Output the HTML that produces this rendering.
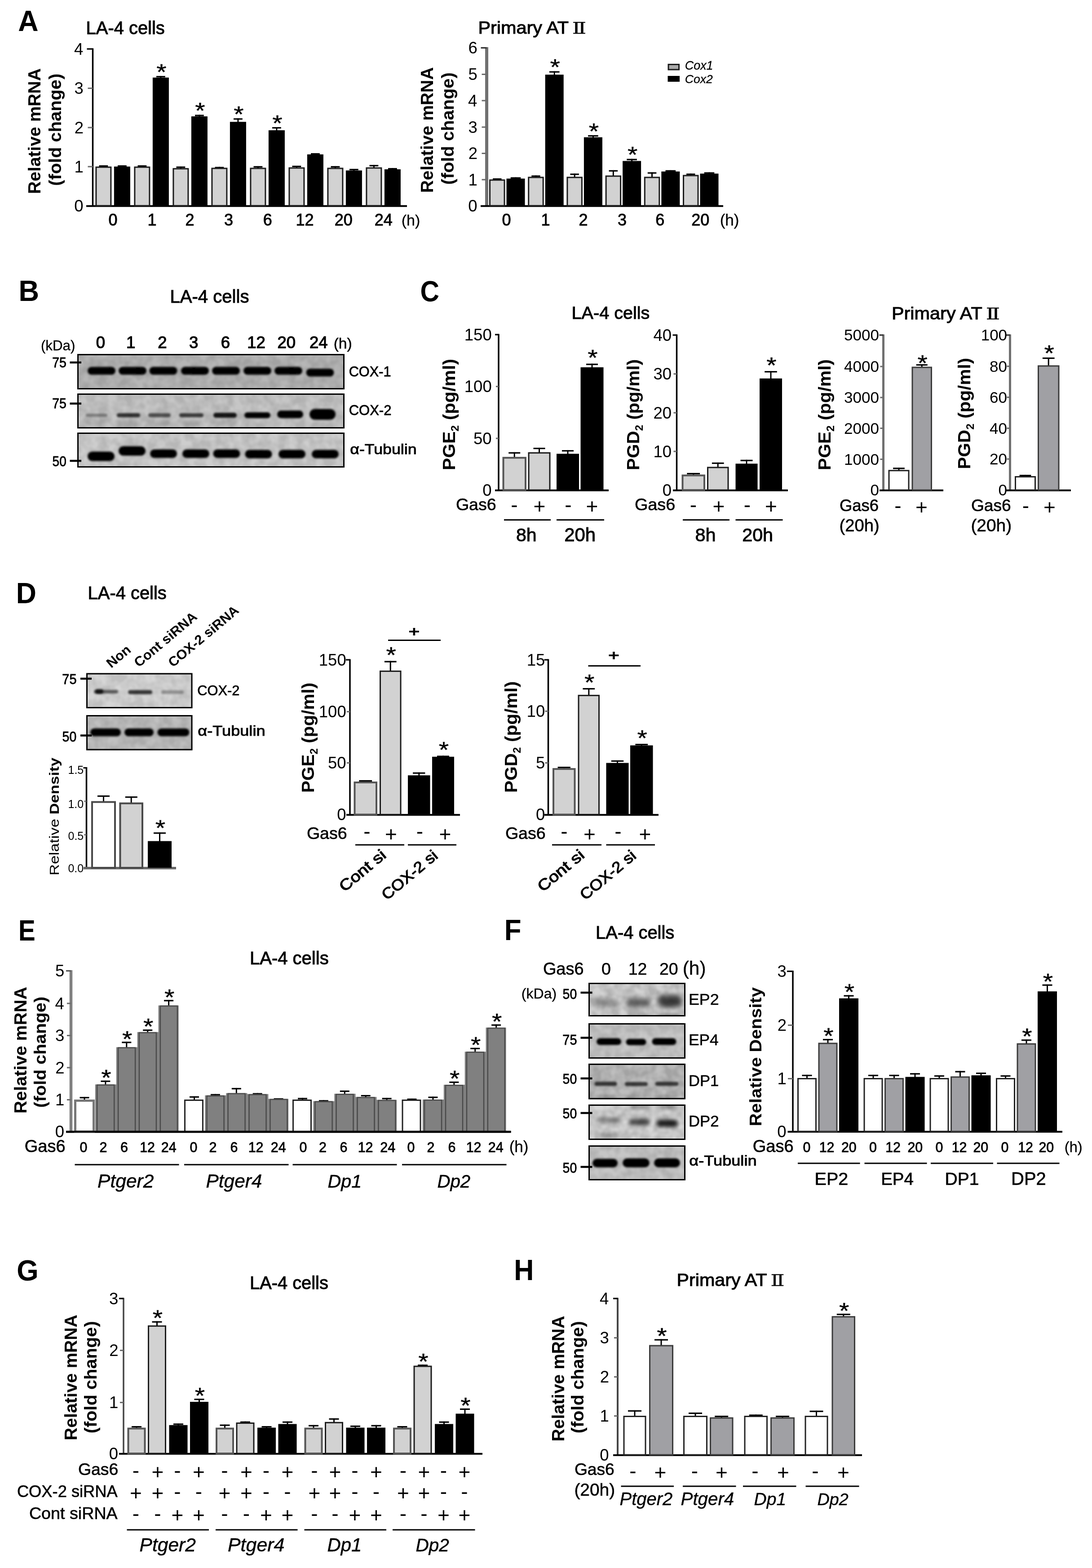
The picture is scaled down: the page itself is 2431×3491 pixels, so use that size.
<!DOCTYPE html>
<html lang="en"><head><meta charset="utf-8"><title>Figure</title>
<style>
html,body{margin:0;padding:0;background:#fff;}
body{width:2431px;height:3491px;overflow:hidden;}
svg{display:block;}
svg text{font-family:"Liberation Sans","Noto Sans CJK KR",sans-serif;fill:#000;}
svg .rn{font-family:"DejaVu Serif","Liberation Serif",serif;}
</style></head><body>
<svg width="2431" height="3491" viewBox="0 0 2431 3491">
<defs>
<filter id="soft" filterUnits="userSpaceOnUse" x="0" y="0" width="2431" height="3491"><feGaussianBlur stdDeviation="0.75"/></filter>
<filter id="b3" x="-30%" y="-80%" width="160%" height="260%"><feGaussianBlur stdDeviation="2.2"/></filter>
<filter id="b5" x="-30%" y="-120%" width="160%" height="340%"><feGaussianBlur stdDeviation="4"/></filter>
<filter id="b6" x="-30%" y="-120%" width="160%" height="340%"><feGaussianBlur stdDeviation="6"/></filter>
<filter id="nz0" x="0" y="0" width="100%" height="100%"><feTurbulence type="fractalNoise" baseFrequency="0.05" numOctaves="2" seed="3"/><feColorMatrix type="matrix" values="0 0 0 0 0  0 0 0 0 0  0 0 0 0 0  2.2 0 0 0 -0.6"/></filter>
<filter id="nz1" x="0" y="0" width="100%" height="100%"><feTurbulence type="fractalNoise" baseFrequency="0.05" numOctaves="2" seed="11"/><feColorMatrix type="matrix" values="0 0 0 0 0  0 0 0 0 0  0 0 0 0 0  2.2 0 0 0 -0.6"/></filter>
<filter id="nz2" x="0" y="0" width="100%" height="100%"><feTurbulence type="fractalNoise" baseFrequency="0.05" numOctaves="2" seed="23"/><feColorMatrix type="matrix" values="0 0 0 0 0  0 0 0 0 0  0 0 0 0 0  2.2 0 0 0 -0.6"/></filter>
<filter id="nz3" x="0" y="0" width="100%" height="100%"><feTurbulence type="fractalNoise" baseFrequency="0.05" numOctaves="2" seed="37"/><feColorMatrix type="matrix" values="0 0 0 0 0  0 0 0 0 0  0 0 0 0 0  2.2 0 0 0 -0.6"/></filter>
</defs>
<g filter="url(#soft)">
<rect x="0" y="0" width="2431" height="3491" fill="#fff"/>
<text x="40.2" y="69.0" font-size="65.5" textLength="45.27" lengthAdjust="spacingAndGlyphs" font-weight="bold" >A</text>
<text x="41.6" y="670.0" font-size="65.5" textLength="45.58" lengthAdjust="spacingAndGlyphs" font-weight="bold" >B</text>
<text x="935.4" y="670.5" font-size="65.5" textLength="42.45" lengthAdjust="spacingAndGlyphs" font-weight="bold" >C</text>
<text x="35.7" y="1343.0" font-size="65.5" textLength="45.21" lengthAdjust="spacingAndGlyphs" font-weight="bold" >D</text>
<text x="41.1" y="2094.0" font-size="65.5" textLength="37.78" lengthAdjust="spacingAndGlyphs" font-weight="bold" >E</text>
<text x="1122.7" y="2093.0" font-size="65.5" textLength="37.73" lengthAdjust="spacingAndGlyphs" font-weight="bold" >F</text>
<text x="37.3" y="2850.5" font-size="65.5" textLength="48.40" lengthAdjust="spacingAndGlyphs" font-weight="bold" >G</text>
<text x="1144.3" y="2850.0" font-size="65.5" textLength="44.07" lengthAdjust="spacingAndGlyphs" font-weight="bold" >H</text>
<text x="191.6" y="75.5" font-size="39.9"  stroke="#000" stroke-width="1.00" >LA-4 cells</text>
<text x="90.4" y="431.8" font-size="39.5" textLength="279.67" lengthAdjust="spacingAndGlyphs" font-weight="bold" transform="rotate(-90 90.4 431.8)">Relative mRNA</text>
<text x="136.3" y="413.7" font-size="38.0" textLength="249.88" lengthAdjust="spacingAndGlyphs" font-weight="bold" transform="rotate(-90 136.3 413.7)">(fold change)</text>
<line x1="206.5" y1="107.5" x2="206.5" y2="459.5" stroke="#000" stroke-width="3.5"/>
<line x1="193.5" y1="109.0" x2="206.5" y2="109.0" stroke="#000" stroke-width="3.2"/>
<text x="165.1" y="121.6" font-size="36.5"  >4</text>
<line x1="195.5" y1="196.5" x2="206.5" y2="196.5" stroke="#6a6a6a" stroke-width="3.0"/>
<text x="165.5" y="209.1" font-size="36.5"  >3</text>
<line x1="195.5" y1="284.0" x2="206.5" y2="284.0" stroke="#6a6a6a" stroke-width="3.0"/>
<text x="165.8" y="296.6" font-size="36.5"  >2</text>
<line x1="195.5" y1="371.0" x2="206.5" y2="371.0" stroke="#6a6a6a" stroke-width="3.0"/>
<text x="165.6" y="383.6" font-size="36.5"  >1</text>
<text x="165.3" y="470.6" font-size="36.5"  >0</text>
<line x1="192.0" y1="458.7" x2="906.0" y2="458.7" stroke="#000" stroke-width="4.0"/>
<line x1="230.4" y1="368.1" x2="230.4" y2="372.8" stroke="#000" stroke-width="3.0"/>
<line x1="220.5" y1="369.6" x2="240.3" y2="369.6" stroke="#000" stroke-width="3.2"/>
<rect x="213.9" y="372.2" width="33.0" height="85.8" fill="#d2d2d2" stroke="#1c1c1c" stroke-width="3.0"/>
<line x1="271.9" y1="368.1" x2="271.9" y2="372.8" stroke="#000" stroke-width="3.0"/>
<line x1="262.0" y1="369.6" x2="281.8" y2="369.6" stroke="#000" stroke-width="3.2"/>
<rect x="253.9" y="370.8" width="36.0" height="87.2" fill="#000"/>
<text x="241.4" y="502.0" font-size="36.0"  stroke="#000" stroke-width="0.90">0</text>
<line x1="316.4" y1="368.1" x2="316.4" y2="372.8" stroke="#000" stroke-width="3.0"/>
<line x1="306.5" y1="369.6" x2="326.3" y2="369.6" stroke="#000" stroke-width="3.2"/>
<rect x="299.9" y="372.2" width="33.0" height="85.8" fill="#d2d2d2" stroke="#1c1c1c" stroke-width="3.0"/>
<line x1="357.9" y1="169.2" x2="357.9" y2="174.7" stroke="#000" stroke-width="3.0"/>
<line x1="348.0" y1="170.7" x2="367.8" y2="170.7" stroke="#000" stroke-width="3.2"/>
<rect x="339.9" y="172.7" width="36.0" height="285.3" fill="#000"/>
<text x="348.2" y="178.0" font-size="50.0" textLength="22.38" lengthAdjust="spacingAndGlyphs" stroke="#000" stroke-width="0.40">*</text>
<text x="328.5" y="502.0" font-size="36.0"  stroke="#000" stroke-width="0.90">1</text>
<line x1="402.4" y1="370.8" x2="402.4" y2="376.2" stroke="#000" stroke-width="3.0"/>
<line x1="392.5" y1="372.2" x2="412.3" y2="372.2" stroke="#000" stroke-width="3.2"/>
<rect x="385.9" y="375.7" width="33.0" height="82.3" fill="#d2d2d2" stroke="#1c1c1c" stroke-width="3.0"/>
<line x1="443.9" y1="255.6" x2="443.9" y2="261.1" stroke="#000" stroke-width="3.0"/>
<line x1="434.0" y1="257.1" x2="453.8" y2="257.1" stroke="#000" stroke-width="3.2"/>
<rect x="425.9" y="259.1" width="36.0" height="198.9" fill="#000"/>
<text x="434.2" y="264.3" font-size="50.0" textLength="22.38" lengthAdjust="spacingAndGlyphs" stroke="#000" stroke-width="0.40">*</text>
<text x="412.5" y="502.0" font-size="36.0"  stroke="#000" stroke-width="0.90">2</text>
<line x1="488.4" y1="371.6" x2="488.4" y2="375.4" stroke="#000" stroke-width="3.0"/>
<line x1="478.5" y1="373.1" x2="498.3" y2="373.1" stroke="#000" stroke-width="3.2"/>
<rect x="471.9" y="374.9" width="33.0" height="83.1" fill="#d2d2d2" stroke="#1c1c1c" stroke-width="3.0"/>
<line x1="529.9" y1="263.4" x2="529.9" y2="273.3" stroke="#000" stroke-width="3.0"/>
<line x1="520.0" y1="264.9" x2="539.8" y2="264.9" stroke="#000" stroke-width="3.2"/>
<rect x="511.9" y="271.3" width="36.0" height="186.7" fill="#000"/>
<text x="520.2" y="272.2" font-size="50.0" textLength="22.38" lengthAdjust="spacingAndGlyphs" stroke="#000" stroke-width="0.40">*</text>
<text x="499.0" y="502.0" font-size="36.0"  stroke="#000" stroke-width="0.90">3</text>
<line x1="574.4" y1="369.9" x2="574.4" y2="375.4" stroke="#000" stroke-width="3.0"/>
<line x1="564.5" y1="371.4" x2="584.3" y2="371.4" stroke="#000" stroke-width="3.2"/>
<rect x="557.9" y="374.9" width="33.0" height="83.1" fill="#d2d2d2" stroke="#1c1c1c" stroke-width="3.0"/>
<line x1="615.9" y1="283.1" x2="615.9" y2="292.0" stroke="#000" stroke-width="3.0"/>
<line x1="606.0" y1="284.6" x2="625.8" y2="284.6" stroke="#000" stroke-width="3.2"/>
<rect x="597.9" y="290.0" width="36.0" height="168.0" fill="#000"/>
<text x="606.2" y="291.8" font-size="50.0" textLength="22.38" lengthAdjust="spacingAndGlyphs" stroke="#000" stroke-width="0.40">*</text>
<text x="585.8" y="502.0" font-size="36.0"  stroke="#000" stroke-width="0.90">6</text>
<line x1="660.4" y1="369.0" x2="660.4" y2="374.5" stroke="#000" stroke-width="3.0"/>
<line x1="650.5" y1="370.5" x2="670.3" y2="370.5" stroke="#000" stroke-width="3.2"/>
<rect x="643.9" y="374.0" width="33.0" height="84.0" fill="#d2d2d2" stroke="#1c1c1c" stroke-width="3.0"/>
<line x1="701.9" y1="341.1" x2="701.9" y2="345.7" stroke="#000" stroke-width="3.0"/>
<line x1="692.0" y1="342.6" x2="711.8" y2="342.6" stroke="#000" stroke-width="3.2"/>
<rect x="683.9" y="343.7" width="36.0" height="114.3" fill="#000"/>
<text x="658.6" y="502.0" font-size="36.0"  stroke="#000" stroke-width="0.90">12</text>
<line x1="746.4" y1="369.9" x2="746.4" y2="375.4" stroke="#000" stroke-width="3.0"/>
<line x1="736.5" y1="371.4" x2="756.3" y2="371.4" stroke="#000" stroke-width="3.2"/>
<rect x="729.9" y="374.9" width="33.0" height="83.1" fill="#d2d2d2" stroke="#1c1c1c" stroke-width="3.0"/>
<line x1="787.9" y1="376.0" x2="787.9" y2="381.5" stroke="#000" stroke-width="3.0"/>
<line x1="778.0" y1="377.5" x2="797.8" y2="377.5" stroke="#000" stroke-width="3.2"/>
<rect x="769.9" y="379.5" width="36.0" height="78.5" fill="#000"/>
<text x="744.8" y="502.0" font-size="36.0"  stroke="#000" stroke-width="0.90">20</text>
<line x1="832.4" y1="367.3" x2="832.4" y2="374.5" stroke="#000" stroke-width="3.0"/>
<line x1="822.5" y1="368.8" x2="842.3" y2="368.8" stroke="#000" stroke-width="3.2"/>
<rect x="815.9" y="374.0" width="33.0" height="84.0" fill="#d2d2d2" stroke="#1c1c1c" stroke-width="3.0"/>
<line x1="873.9" y1="374.2" x2="873.9" y2="378.9" stroke="#000" stroke-width="3.0"/>
<line x1="864.0" y1="375.7" x2="883.8" y2="375.7" stroke="#000" stroke-width="3.2"/>
<rect x="855.9" y="376.9" width="36.0" height="81.1" fill="#000"/>
<text x="833.7" y="502.0" font-size="36.0"  stroke="#000" stroke-width="0.90">24</text>
<text x="893.7" y="502.0" font-size="34.1"  stroke="#000" stroke-width="0.30" >(h)</text>
<text y="75.0" font-size="38.5" stroke="#000" stroke-width="1.00"><tspan x="1064.5" textLength="200.67" lengthAdjust="spacingAndGlyphs">Primary AT</tspan><tspan> </tspan><tspan class="rn" x="1274.0" font-size="35.5" stroke-width="0.5" textLength="31" lengthAdjust="spacingAndGlyphs">Ⅱ</tspan></text>
<text x="964.4" y="429.3" font-size="39.5" textLength="279.67" lengthAdjust="spacingAndGlyphs" font-weight="bold" transform="rotate(-90 964.4 429.3)">Relative mRNA</text>
<text x="1010.3" y="411.2" font-size="38.0" textLength="249.88" lengthAdjust="spacingAndGlyphs" font-weight="bold" transform="rotate(-90 1010.3 411.2)">(fold change)</text>
<line x1="1083.5" y1="105.0" x2="1083.5" y2="459.5" stroke="#707070" stroke-width="7.0"/>
<line x1="1070.5" y1="106.5" x2="1083.5" y2="106.5" stroke="#333" stroke-width="3.2"/>
<text x="1042.5" y="119.1" font-size="36.5"  >6</text>
<line x1="1072.5" y1="165.5" x2="1083.5" y2="165.5" stroke="#6a6a6a" stroke-width="3.0"/>
<text x="1042.5" y="178.1" font-size="36.5"  >5</text>
<line x1="1072.5" y1="224.0" x2="1083.5" y2="224.0" stroke="#6a6a6a" stroke-width="3.0"/>
<text x="1042.1" y="236.6" font-size="36.5"  >4</text>
<line x1="1072.5" y1="283.0" x2="1083.5" y2="283.0" stroke="#6a6a6a" stroke-width="3.0"/>
<text x="1042.5" y="295.6" font-size="36.5"  >3</text>
<line x1="1072.5" y1="341.5" x2="1083.5" y2="341.5" stroke="#6a6a6a" stroke-width="3.0"/>
<text x="1042.8" y="354.1" font-size="36.5"  >2</text>
<line x1="1072.5" y1="400.0" x2="1083.5" y2="400.0" stroke="#6a6a6a" stroke-width="3.0"/>
<text x="1042.6" y="412.6" font-size="36.5"  >1</text>
<text x="1042.3" y="470.6" font-size="36.5"  >0</text>
<line x1="1070.0" y1="458.7" x2="1610.0" y2="458.7" stroke="#000" stroke-width="4.0"/>
<line x1="1106.8" y1="397.1" x2="1106.8" y2="401.4" stroke="#000" stroke-width="3.0"/>
<line x1="1097.0" y1="398.6" x2="1116.5" y2="398.6" stroke="#000" stroke-width="3.2"/>
<rect x="1090.5" y="400.9" width="32.5" height="57.1" fill="#d2d2d2" stroke="#1c1c1c" stroke-width="3.0"/>
<line x1="1148.0" y1="394.7" x2="1148.0" y2="399.6" stroke="#000" stroke-width="3.0"/>
<line x1="1136.7" y1="396.2" x2="1159.3" y2="396.2" stroke="#000" stroke-width="3.2"/>
<rect x="1127.5" y="397.6" width="41.0" height="60.4" fill="#000"/>
<text x="1117.4" y="502.0" font-size="36.0"  stroke="#000" stroke-width="0.90">0</text>
<line x1="1193.0" y1="390.6" x2="1193.0" y2="395.5" stroke="#000" stroke-width="3.0"/>
<line x1="1183.2" y1="392.1" x2="1202.7" y2="392.1" stroke="#000" stroke-width="3.2"/>
<rect x="1176.7" y="395.0" width="32.5" height="63.0" fill="#d2d2d2" stroke="#1c1c1c" stroke-width="3.0"/>
<line x1="1234.2" y1="158.6" x2="1234.2" y2="168.2" stroke="#000" stroke-width="3.0"/>
<line x1="1222.9" y1="160.1" x2="1245.5" y2="160.1" stroke="#000" stroke-width="3.2"/>
<rect x="1213.7" y="166.2" width="41.0" height="291.8" fill="#000"/>
<text x="1224.5" y="167.3" font-size="50.0" textLength="22.38" lengthAdjust="spacingAndGlyphs" stroke="#000" stroke-width="0.40">*</text>
<text x="1204.5" y="502.0" font-size="36.0"  stroke="#000" stroke-width="0.90">1</text>
<line x1="1279.2" y1="386.5" x2="1279.2" y2="395.5" stroke="#000" stroke-width="3.0"/>
<line x1="1269.4" y1="388.0" x2="1288.9" y2="388.0" stroke="#000" stroke-width="3.2"/>
<rect x="1262.9" y="395.0" width="32.5" height="63.0" fill="#d2d2d2" stroke="#1c1c1c" stroke-width="3.0"/>
<line x1="1320.4" y1="301.0" x2="1320.4" y2="307.6" stroke="#000" stroke-width="3.0"/>
<line x1="1309.1" y1="302.5" x2="1331.7" y2="302.5" stroke="#000" stroke-width="3.2"/>
<rect x="1299.9" y="305.6" width="41.0" height="152.4" fill="#000"/>
<text x="1310.7" y="309.7" font-size="50.0" textLength="22.38" lengthAdjust="spacingAndGlyphs" stroke="#000" stroke-width="0.40">*</text>
<text x="1288.5" y="502.0" font-size="36.0"  stroke="#000" stroke-width="0.90">2</text>
<line x1="1365.3" y1="378.9" x2="1365.3" y2="392.6" stroke="#000" stroke-width="3.0"/>
<line x1="1355.6" y1="380.4" x2="1375.1" y2="380.4" stroke="#000" stroke-width="3.2"/>
<rect x="1349.1" y="392.1" width="32.5" height="65.9" fill="#d2d2d2" stroke="#1c1c1c" stroke-width="3.0"/>
<line x1="1406.6" y1="353.7" x2="1406.6" y2="360.4" stroke="#000" stroke-width="3.0"/>
<line x1="1395.3" y1="355.2" x2="1417.9" y2="355.2" stroke="#000" stroke-width="3.2"/>
<rect x="1386.1" y="358.4" width="41.0" height="99.6" fill="#000"/>
<text x="1396.9" y="362.4" font-size="50.0" textLength="22.38" lengthAdjust="spacingAndGlyphs" stroke="#000" stroke-width="0.40">*</text>
<text x="1375.0" y="502.0" font-size="36.0"  stroke="#000" stroke-width="0.90">3</text>
<line x1="1451.5" y1="383.6" x2="1451.5" y2="395.5" stroke="#000" stroke-width="3.0"/>
<line x1="1441.8" y1="385.1" x2="1461.3" y2="385.1" stroke="#000" stroke-width="3.2"/>
<rect x="1435.3" y="395.0" width="32.5" height="63.0" fill="#d2d2d2" stroke="#1c1c1c" stroke-width="3.0"/>
<line x1="1492.8" y1="378.9" x2="1492.8" y2="383.8" stroke="#000" stroke-width="3.0"/>
<line x1="1481.5" y1="380.4" x2="1504.1" y2="380.4" stroke="#000" stroke-width="3.2"/>
<rect x="1472.3" y="381.8" width="41.0" height="76.2" fill="#000"/>
<text x="1459.3" y="502.0" font-size="36.0"  stroke="#000" stroke-width="0.90">6</text>
<line x1="1537.8" y1="386.5" x2="1537.8" y2="391.4" stroke="#000" stroke-width="3.0"/>
<line x1="1528.0" y1="388.0" x2="1547.5" y2="388.0" stroke="#000" stroke-width="3.2"/>
<rect x="1521.5" y="390.9" width="32.5" height="67.1" fill="#d2d2d2" stroke="#1c1c1c" stroke-width="3.0"/>
<line x1="1579.0" y1="383.6" x2="1579.0" y2="388.5" stroke="#000" stroke-width="3.0"/>
<line x1="1567.7" y1="385.1" x2="1590.3" y2="385.1" stroke="#000" stroke-width="3.2"/>
<rect x="1558.5" y="386.5" width="41.0" height="71.5" fill="#000"/>
<text x="1539.2" y="502.0" font-size="36.0"  stroke="#000" stroke-width="0.90">20</text>
<text x="1602.7" y="502.0" font-size="35.0"  stroke="#000" stroke-width="0.30" >(h)</text>
<rect x="1488.0" y="143.5" width="23.5" height="11.5" fill="#aaaaaa" stroke="#1a1a1a" stroke-width="3.0"/>
<rect x="1486.5" y="169.0" width="26.5" height="13.0" fill="#000"/>
<text x="1524.8" y="155.0" font-size="26.9"  font-style="italic" stroke="#000" stroke-width="0.30" >Cox1</text>
<text x="1524.8" y="184.5" font-size="26.5"  font-style="italic" stroke="#000" stroke-width="0.30" >Cox2</text>
<text x="378.5" y="674.0" font-size="40.1"  stroke="#000" stroke-width="1.00" >LA-4 cells</text>
<text x="90.9" y="780.0" font-size="31.3"  stroke="#000" stroke-width="0.30" >(kDa)</text>
<text x="213.8" y="774.5" font-size="36.5"  stroke="#000" stroke-width="1.20">0</text>
<text x="280.9" y="774.5" font-size="36.5"  stroke="#000" stroke-width="1.20">1</text>
<text x="351.3" y="774.5" font-size="36.5"  stroke="#000" stroke-width="1.20">2</text>
<text x="420.9" y="774.5" font-size="36.5"  stroke="#000" stroke-width="1.20">3</text>
<text x="491.7" y="774.5" font-size="36.5"  stroke="#000" stroke-width="1.20">6</text>
<text x="550.3" y="774.5" font-size="36.5"  stroke="#000" stroke-width="1.20">12</text>
<text x="617.5" y="774.5" font-size="36.5"  stroke="#000" stroke-width="1.20">20</text>
<text x="688.9" y="774.5" font-size="36.5"  stroke="#000" stroke-width="1.20">24</text>
<text x="742.7" y="775.5" font-size="33.6"  stroke="#000" stroke-width="0.50" >(h)</text>
<clipPath id="bc1"><rect x="172.0" y="788.0" width="595.0" height="79.0"/></clipPath>
<g clip-path="url(#bc1)">
<rect x="172.0" y="788.0" width="595.0" height="79.0" fill="#b6b6b6"/>
<rect x="172.0" y="788.0" width="595.0" height="79.0" filter="url(#nz1)" opacity="0.10"/>
<rect x="195.0" y="816.8" width="62.0" height="17.5" rx="8.8" ry="8.8" fill="#000" opacity="1.00" filter="url(#b3)"/>
<rect x="264.0" y="816.8" width="62.0" height="17.5" rx="8.8" ry="8.8" fill="#000" opacity="1.00" filter="url(#b3)"/>
<rect x="332.5" y="816.8" width="62.0" height="17.5" rx="8.8" ry="8.8" fill="#000" opacity="1.00" filter="url(#b3)"/>
<rect x="403.0" y="816.8" width="62.0" height="17.5" rx="8.8" ry="8.8" fill="#000" opacity="1.00" filter="url(#b3)"/>
<rect x="472.0" y="816.8" width="62.0" height="17.5" rx="8.8" ry="8.8" fill="#000" opacity="1.00" filter="url(#b3)"/>
<rect x="542.0" y="816.8" width="62.0" height="17.5" rx="8.8" ry="8.8" fill="#000" opacity="1.00" filter="url(#b3)"/>
<rect x="611.0" y="816.8" width="62.0" height="17.5" rx="8.8" ry="8.8" fill="#000" opacity="1.00" filter="url(#b3)"/>
<rect x="681.5" y="820.8" width="62.0" height="17.5" rx="8.8" ry="8.8" fill="#000" opacity="1.00" filter="url(#b3)"/>
</g>
<rect x="173.5" y="789.5" width="592.0" height="76.0" fill="none" stroke="#000" stroke-width="3"/>
<clipPath id="bc2"><rect x="172.0" y="876.0" width="595.0" height="78.0"/></clipPath>
<g clip-path="url(#bc2)">
<rect x="172.0" y="876.0" width="595.0" height="78.0" fill="#c6c6c6"/>
<rect x="172.0" y="876.0" width="595.0" height="78.0" filter="url(#nz2)" opacity="0.10"/>
<rect x="191.0" y="921.0" width="48.0" height="7.0" rx="3.5" ry="3.5" fill="#000" opacity="0.35" filter="url(#b3)"/>
<rect x="191.0" y="935.0" width="48.0" height="14.0" rx="7.0" ry="7.0" fill="#000" opacity="0.10" filter="url(#b5)"/>
<rect x="260.0" y="920.0" width="52.0" height="9.0" rx="4.5" ry="4.5" fill="#000" opacity="0.75" filter="url(#b3)"/>
<rect x="260.0" y="935.0" width="52.0" height="14.0" rx="7.0" ry="7.0" fill="#000" opacity="0.10" filter="url(#b5)"/>
<rect x="330.0" y="920.0" width="50.0" height="9.0" rx="4.5" ry="4.5" fill="#000" opacity="0.60" filter="url(#b3)"/>
<rect x="330.0" y="935.0" width="50.0" height="14.0" rx="7.0" ry="7.0" fill="#000" opacity="0.10" filter="url(#b5)"/>
<rect x="399.0" y="920.0" width="54.0" height="9.0" rx="4.5" ry="4.5" fill="#000" opacity="0.70" filter="url(#b3)"/>
<rect x="399.0" y="935.0" width="54.0" height="14.0" rx="7.0" ry="7.0" fill="#000" opacity="0.10" filter="url(#b5)"/>
<rect x="475.0" y="919.0" width="52.0" height="11.0" rx="5.5" ry="5.5" fill="#000" opacity="0.90" filter="url(#b3)"/>
<rect x="475.0" y="935.0" width="52.0" height="14.0" rx="7.0" ry="7.0" fill="#000" opacity="0.10" filter="url(#b5)"/>
<rect x="544.0" y="918.0" width="58.0" height="13.0" rx="6.5" ry="6.5" fill="#000" opacity="1.00" filter="url(#b3)"/>
<rect x="617.0" y="914.0" width="58.0" height="17.0" rx="8.5" ry="8.5" fill="#000" opacity="1.00" filter="url(#b3)"/>
<rect x="689.0" y="910.5" width="58.0" height="24.0" rx="12.0" ry="12.0" fill="#000" opacity="1.00" filter="url(#b3)"/>
</g>
<rect x="173.5" y="877.5" width="592.0" height="75.0" fill="none" stroke="#000" stroke-width="3"/>
<clipPath id="bc3"><rect x="172.0" y="963.0" width="595.0" height="78.0"/></clipPath>
<g clip-path="url(#bc3)">
<rect x="172.0" y="963.0" width="595.0" height="78.0" fill="#cdcdcd"/>
<rect x="172.0" y="963.0" width="595.0" height="78.0" filter="url(#nz3)" opacity="0.10"/>
<rect x="195.0" y="1005.5" width="60.0" height="21.0" rx="10.5" ry="10.5" fill="#000" opacity="1.00" filter="url(#b3)"/>
<rect x="264.0" y="993.5" width="60.0" height="21.0" rx="10.5" ry="10.5" fill="#000" opacity="1.00" filter="url(#b3)"/>
<rect x="334.0" y="1000.5" width="60.0" height="19.0" rx="9.5" ry="9.5" fill="#000" opacity="1.00" filter="url(#b3)"/>
<rect x="406.0" y="1000.5" width="60.0" height="19.0" rx="9.5" ry="9.5" fill="#000" opacity="1.00" filter="url(#b3)"/>
<rect x="474.5" y="1000.5" width="60.0" height="19.0" rx="9.5" ry="9.5" fill="#000" opacity="1.00" filter="url(#b3)"/>
<rect x="545.5" y="1001.5" width="60.0" height="19.0" rx="9.5" ry="9.5" fill="#000" opacity="1.00" filter="url(#b3)"/>
<rect x="620.0" y="1001.5" width="60.0" height="19.0" rx="9.5" ry="9.5" fill="#000" opacity="1.00" filter="url(#b3)"/>
<rect x="694.0" y="1001.5" width="60.0" height="19.0" rx="9.5" ry="9.5" fill="#000" opacity="1.00" filter="url(#b3)"/>
</g>
<rect x="173.5" y="964.5" width="592.0" height="75.0" fill="none" stroke="#000" stroke-width="3"/>
<text x="116.3" y="818.0" font-size="31.5" textLength="31.63" lengthAdjust="spacingAndGlyphs" stroke="#000" stroke-width="0.80" >75</text>
<line x1="155.5" y1="807.0" x2="181.0" y2="807.0" stroke="#000" stroke-width="4.5"/>
<text x="116.3" y="909.0" font-size="31.5" textLength="31.63" lengthAdjust="spacingAndGlyphs" stroke="#000" stroke-width="0.80" >75</text>
<line x1="155.5" y1="898.5" x2="181.0" y2="898.5" stroke="#000" stroke-width="4.5"/>
<text x="116.6" y="1038.0" font-size="31.5" textLength="31.17" lengthAdjust="spacingAndGlyphs" stroke="#000" stroke-width="0.80" >50</text>
<line x1="155.5" y1="1026.0" x2="181.0" y2="1026.0" stroke="#000" stroke-width="4.5"/>
<text x="776.7" y="837.5" font-size="30.7"  stroke="#000" stroke-width="0.80" >COX-1</text>
<text x="776.7" y="924.0" font-size="31.0"  stroke="#000" stroke-width="0.80" >COX-2</text>
<text x="779.3" y="1011.0" font-size="32.0" textLength="148.21" lengthAdjust="spacingAndGlyphs" stroke="#000" stroke-width="0.90" >α-Tubulin</text>
<text x="1272.6" y="710.0" font-size="39.6"  stroke="#000" stroke-width="1.00" >LA-4 cells</text>
<text y="711.0" font-size="38.5" stroke="#000" stroke-width="1.00"><tspan x="1984.9" textLength="201.10" lengthAdjust="spacingAndGlyphs">Primary AT</tspan><tspan> </tspan><tspan class="rn" x="2195.0" font-size="35.5" stroke-width="0.5" textLength="31" lengthAdjust="spacingAndGlyphs">Ⅱ</tspan></text>
<text x="1013.2" y="1046.9" font-size="38.5" font-weight="bold" textLength="248.10" lengthAdjust="spacingAndGlyphs" transform="rotate(-90 1013.2 1046.9)">PGE<tspan font-size="23.1" dy="8">2</tspan><tspan dy="-8"> (pg/ml)</tspan></text>
<line x1="1110.0" y1="743.5" x2="1110.0" y2="1092.5" stroke="#000" stroke-width="3.5"/>
<line x1="1102.0" y1="745.0" x2="1110.0" y2="745.0" stroke="#000" stroke-width="3.2"/>
<text x="1033.8" y="757.6" font-size="36.5"  >150</text>
<line x1="1104.0" y1="860.5" x2="1110.0" y2="860.5" stroke="#6a6a6a" stroke-width="3.0"/>
<text x="1033.8" y="873.1" font-size="36.5"  >100</text>
<line x1="1104.0" y1="976.0" x2="1110.0" y2="976.0" stroke="#6a6a6a" stroke-width="3.0"/>
<text x="1054.0" y="988.6" font-size="36.5"  >50</text>
<text x="1074.3" y="1103.6" font-size="36.5"  >0</text>
<line x1="1102.0" y1="1091.7" x2="1355.0" y2="1091.7" stroke="#000" stroke-width="4.0"/>
<line x1="1145.2" y1="1006.8" x2="1145.2" y2="1019.2" stroke="#000" stroke-width="3.0"/>
<line x1="1132.2" y1="1008.3" x2="1158.2" y2="1008.3" stroke="#000" stroke-width="3.2"/>
<rect x="1120.5" y="1019.2" width="49.5" height="71.8" fill="#d2d2d2" stroke="#555" stroke-width="4.0"/>
<line x1="1200.5" y1="996.9" x2="1200.5" y2="1008.8" stroke="#000" stroke-width="3.0"/>
<line x1="1187.5" y1="998.4" x2="1213.5" y2="998.4" stroke="#000" stroke-width="3.2"/>
<rect x="1177.0" y="1008.3" width="47.0" height="82.7" fill="#d2d2d2" stroke="#1c1c1c" stroke-width="3.0"/>
<line x1="1264.0" y1="1002.2" x2="1264.0" y2="1012.3" stroke="#000" stroke-width="3.0"/>
<line x1="1251.0" y1="1003.7" x2="1277.0" y2="1003.7" stroke="#000" stroke-width="3.2"/>
<rect x="1239.0" y="1010.3" width="50.0" height="80.7" fill="#000"/>
<line x1="1318.0" y1="809.7" x2="1318.0" y2="819.7" stroke="#000" stroke-width="3.0"/>
<line x1="1305.0" y1="811.2" x2="1331.0" y2="811.2" stroke="#000" stroke-width="3.2"/>
<rect x="1292.5" y="817.7" width="51.0" height="273.3" fill="#000"/>
<text x="1308.3" y="813.8" font-size="50.0" textLength="22.38" lengthAdjust="spacingAndGlyphs" stroke="#000" stroke-width="0.40">*</text>
<text x="1014.9" y="1135.5" font-size="37.6"  stroke="#000" stroke-width="0.60" >Gas6</text>
<text x="1137.3" y="1139.7" font-size="46.0"  >-</text>
<text x="1187.5" y="1143.4" font-size="46.0"  >+</text>
<text x="1257.3" y="1139.7" font-size="46.0"  >-</text>
<text x="1304.5" y="1143.4" font-size="46.0"  >+</text>
<line x1="1122.0" y1="1157.5" x2="1226.0" y2="1157.5" stroke="#000" stroke-width="3.0"/>
<line x1="1239.0" y1="1157.5" x2="1345.0" y2="1157.5" stroke="#000" stroke-width="3.0"/>
<text x="1148.9" y="1205.0" font-size="41.0"  stroke="#000" stroke-width="1.00" >8h</text>
<text x="1256.2" y="1205.0" font-size="41.9"  stroke="#000" stroke-width="1.00" >20h</text>
<text x="1423.2" y="1046.9" font-size="38.5" font-weight="bold" textLength="247.04" lengthAdjust="spacingAndGlyphs" transform="rotate(-90 1423.2 1046.9)">PGD<tspan font-size="23.1" dy="8">2</tspan><tspan dy="-8"> (pg/ml)</tspan></text>
<line x1="1506.5" y1="744.5" x2="1506.5" y2="1092.5" stroke="#000" stroke-width="3.5"/>
<line x1="1497.5" y1="746.0" x2="1506.5" y2="746.0" stroke="#000" stroke-width="3.2"/>
<text x="1454.5" y="758.6" font-size="36.5"  >40</text>
<line x1="1499.5" y1="832.5" x2="1506.5" y2="832.5" stroke="#6a6a6a" stroke-width="3.0"/>
<text x="1454.5" y="845.1" font-size="36.5"  >30</text>
<line x1="1499.5" y1="919.0" x2="1506.5" y2="919.0" stroke="#6a6a6a" stroke-width="3.0"/>
<text x="1454.5" y="931.6" font-size="36.5"  >20</text>
<line x1="1499.5" y1="1005.0" x2="1506.5" y2="1005.0" stroke="#6a6a6a" stroke-width="3.0"/>
<text x="1454.5" y="1017.6" font-size="36.5"  >10</text>
<text x="1474.8" y="1103.6" font-size="36.5"  >0</text>
<line x1="1498.0" y1="1091.7" x2="1754.0" y2="1091.7" stroke="#000" stroke-width="4.0"/>
<line x1="1543.8" y1="1053.0" x2="1543.8" y2="1058.5" stroke="#000" stroke-width="3.0"/>
<line x1="1529.3" y1="1054.5" x2="1558.2" y2="1054.5" stroke="#000" stroke-width="3.2"/>
<rect x="1519.5" y="1058.5" width="48.5" height="32.5" fill="#d2d2d2" stroke="#555" stroke-width="4.0"/>
<line x1="1598.2" y1="1029.8" x2="1598.2" y2="1041.2" stroke="#000" stroke-width="3.0"/>
<line x1="1584.9" y1="1031.3" x2="1611.6" y2="1031.3" stroke="#000" stroke-width="3.2"/>
<rect x="1575.5" y="1040.8" width="45.5" height="50.2" fill="#d2d2d2" stroke="#1c1c1c" stroke-width="3.0"/>
<line x1="1662.0" y1="1023.7" x2="1662.0" y2="1034.3" stroke="#000" stroke-width="3.0"/>
<line x1="1648.5" y1="1025.2" x2="1675.5" y2="1025.2" stroke="#000" stroke-width="3.2"/>
<rect x="1637.5" y="1032.3" width="49.0" height="58.7" fill="#000"/>
<line x1="1716.0" y1="826.2" x2="1716.0" y2="844.6" stroke="#000" stroke-width="3.0"/>
<line x1="1702.2" y1="827.7" x2="1729.8" y2="827.7" stroke="#000" stroke-width="3.2"/>
<rect x="1691.0" y="842.6" width="50.0" height="248.4" fill="#000"/>
<text x="1706.3" y="830.8" font-size="50.0" textLength="22.38" lengthAdjust="spacingAndGlyphs" stroke="#000" stroke-width="0.40">*</text>
<text x="1412.9" y="1135.5" font-size="37.8"  stroke="#000" stroke-width="0.60" >Gas6</text>
<text x="1535.8" y="1139.7" font-size="46.0"  >-</text>
<text x="1586.5" y="1143.4" font-size="46.0"  >+</text>
<text x="1655.8" y="1139.7" font-size="46.0"  >-</text>
<text x="1703.0" y="1143.4" font-size="46.0"  >+</text>
<line x1="1520.0" y1="1157.5" x2="1624.0" y2="1157.5" stroke="#000" stroke-width="3.0"/>
<line x1="1637.5" y1="1157.5" x2="1742.5" y2="1157.5" stroke="#000" stroke-width="3.0"/>
<text x="1547.4" y="1205.0" font-size="41.5"  stroke="#000" stroke-width="1.00" >8h</text>
<text x="1652.2" y="1205.0" font-size="41.3"  stroke="#000" stroke-width="1.00" >20h</text>
<text x="1848.7" y="1046.9" font-size="38.5" font-weight="bold" textLength="247.08" lengthAdjust="spacingAndGlyphs" transform="rotate(-90 1848.7 1046.9)">PGE<tspan font-size="23.1" dy="8">2</tspan><tspan dy="-8"> (pg/ml)</tspan></text>
<line x1="1966.5" y1="744.5" x2="1966.5" y2="1092.5" stroke="#707070" stroke-width="5.0"/>
<line x1="1957.5" y1="746.0" x2="1966.5" y2="746.0" stroke="#333" stroke-width="3.2"/>
<text x="1879.1" y="758.1" font-size="35.0"  >5000</text>
<line x1="1959.5" y1="816.0" x2="1966.5" y2="816.0" stroke="#6a6a6a" stroke-width="3.0"/>
<text x="1879.1" y="828.1" font-size="35.0"  >4000</text>
<line x1="1959.5" y1="885.0" x2="1966.5" y2="885.0" stroke="#6a6a6a" stroke-width="3.0"/>
<text x="1879.1" y="897.1" font-size="35.0"  >3000</text>
<line x1="1959.5" y1="953.5" x2="1966.5" y2="953.5" stroke="#6a6a6a" stroke-width="3.0"/>
<text x="1879.1" y="965.6" font-size="35.0"  >2000</text>
<line x1="1959.5" y1="1022.5" x2="1966.5" y2="1022.5" stroke="#6a6a6a" stroke-width="3.0"/>
<text x="1879.1" y="1034.6" font-size="35.0"  >1000</text>
<text x="1937.5" y="1103.1" font-size="35.0"  >0</text>
<line x1="1958.0" y1="1091.7" x2="2100.0" y2="1091.7" stroke="#000" stroke-width="4.0"/>
<line x1="2001.0" y1="1041.3" x2="2001.0" y2="1048.2" stroke="#000" stroke-width="3.0"/>
<line x1="1988.1" y1="1042.8" x2="2013.9" y2="1042.8" stroke="#000" stroke-width="3.2"/>
<rect x="1979.0" y="1047.7" width="44.0" height="43.3" fill="#fff" stroke="#222" stroke-width="3.0"/>
<line x1="2052.2" y1="810.9" x2="2052.2" y2="818.4" stroke="#000" stroke-width="3.0"/>
<line x1="2039.7" y1="812.4" x2="2064.8" y2="812.4" stroke="#000" stroke-width="3.2"/>
<rect x="2031.0" y="817.9" width="42.5" height="273.1" fill="#a0a0a4" stroke="#3a3a3a" stroke-width="3.0"/>
<text x="2042.5" y="825.8" font-size="50.0" textLength="22.38" lengthAdjust="spacingAndGlyphs" stroke="#000" stroke-width="0.40">*</text>
<text x="1868.9" y="1137.5" font-size="36.5"  stroke="#000" stroke-width="0.60" >Gas6</text>
<text x="1991.3" y="1141.7" font-size="46.0"  >-</text>
<text x="2038.0" y="1145.4" font-size="46.0"  >+</text>
<text x="1868.5" y="1182.5" font-size="38.2"  stroke="#000" stroke-width="0.60" >(20h)</text>
<text x="2160.2" y="1044.4" font-size="38.5" font-weight="bold" textLength="247.55" lengthAdjust="spacingAndGlyphs" transform="rotate(-90 2160.2 1044.4)">PGD<tspan font-size="23.1" dy="8">2</tspan><tspan dy="-8"> (pg/ml)</tspan></text>
<line x1="2248.5" y1="744.5" x2="2248.5" y2="1092.5" stroke="#707070" stroke-width="5.0"/>
<line x1="2239.5" y1="746.0" x2="2248.5" y2="746.0" stroke="#333" stroke-width="3.2"/>
<text x="2183.7" y="758.1" font-size="35.0"  >100</text>
<line x1="2241.5" y1="815.5" x2="2248.5" y2="815.5" stroke="#6a6a6a" stroke-width="3.0"/>
<text x="2203.1" y="827.6" font-size="35.0"  >80</text>
<line x1="2241.5" y1="884.5" x2="2248.5" y2="884.5" stroke="#6a6a6a" stroke-width="3.0"/>
<text x="2203.1" y="896.6" font-size="35.0"  >60</text>
<line x1="2241.5" y1="953.5" x2="2248.5" y2="953.5" stroke="#6a6a6a" stroke-width="3.0"/>
<text x="2203.1" y="965.6" font-size="35.0"  >40</text>
<line x1="2241.5" y1="1022.0" x2="2248.5" y2="1022.0" stroke="#6a6a6a" stroke-width="3.0"/>
<text x="2203.1" y="1034.1" font-size="35.0"  >20</text>
<text x="2222.6" y="1103.1" font-size="35.0"  >0</text>
<line x1="2240.0" y1="1091.7" x2="2384.0" y2="1091.7" stroke="#000" stroke-width="4.0"/>
<line x1="2282.5" y1="1057.2" x2="2282.5" y2="1062.0" stroke="#000" stroke-width="3.0"/>
<line x1="2269.6" y1="1058.7" x2="2295.4" y2="1058.7" stroke="#000" stroke-width="3.2"/>
<rect x="2260.5" y="1061.5" width="44.0" height="29.5" fill="#fff" stroke="#222" stroke-width="3.0"/>
<line x1="2334.2" y1="796.0" x2="2334.2" y2="815.3" stroke="#000" stroke-width="3.0"/>
<line x1="2320.9" y1="797.5" x2="2347.6" y2="797.5" stroke="#000" stroke-width="3.2"/>
<rect x="2311.5" y="814.8" width="45.5" height="276.2" fill="#a0a0a4" stroke="#3a3a3a" stroke-width="3.0"/>
<text x="2324.5" y="803.8" font-size="50.0" textLength="22.38" lengthAdjust="spacingAndGlyphs" stroke="#000" stroke-width="0.40">*</text>
<text x="2161.9" y="1137.5" font-size="37.2"  stroke="#000" stroke-width="0.60" >Gas6</text>
<text x="2275.8" y="1141.7" font-size="46.0"  >-</text>
<text x="2323.0" y="1145.4" font-size="46.0"  >+</text>
<text x="2161.4" y="1182.5" font-size="38.9"  stroke="#000" stroke-width="0.60" >(20h)</text>
<text x="195.6" y="1333.5" font-size="39.9"  stroke="#000" stroke-width="1.00" >LA-4 cells</text>
<g transform="translate(249.0 1487.0) rotate(-40.0)"><text x="-2.0" y="0" font-size="30.0" textLength="59.81" lengthAdjust="spacingAndGlyphs" font-weight="bold">Non</text></g>
<g transform="translate(310.0 1486.0) rotate(-40.0)"><text x="-1.2" y="0" font-size="30.0" textLength="172.02" lengthAdjust="spacingAndGlyphs" font-weight="bold">Cont siRNA</text></g>
<g transform="translate(386.0 1486.0) rotate(-40.0)"><text x="-1.2" y="0" font-size="30.0" textLength="194.13" lengthAdjust="spacingAndGlyphs" font-weight="bold">COX-2 siRNA</text></g>
<clipPath id="bc4"><rect x="192.0" y="1498.5" width="236.5" height="78.5"/></clipPath>
<g clip-path="url(#bc4)">
<rect x="192.0" y="1498.5" width="236.5" height="78.5" fill="#d6d6d6"/>
<rect x="192.0" y="1498.5" width="236.5" height="78.5" filter="url(#nz0)" opacity="0.10"/>
<rect x="209.0" y="1536.0" width="54.0" height="8.0" rx="4.0" ry="4.0" fill="#000" opacity="0.55" filter="url(#b3)"/>
<rect x="212.0" y="1534.5" width="18.0" height="10.0" rx="5.0" ry="5.0" fill="#000" opacity="0.80" filter="url(#b3)"/>
<rect x="285.0" y="1536.5" width="54.0" height="9.0" rx="4.5" ry="4.5" fill="#000" opacity="0.75" filter="url(#b3)"/>
<rect x="359.0" y="1537.0" width="50.0" height="8.0" rx="4.0" ry="4.0" fill="#000" opacity="0.30" filter="url(#b3)"/>
</g>
<rect x="193.5" y="1500.0" width="233.5" height="75.5" fill="none" stroke="#000" stroke-width="3"/>
<clipPath id="bc5"><rect x="192.0" y="1592.0" width="236.5" height="78.5"/></clipPath>
<g clip-path="url(#bc5)">
<rect x="192.0" y="1592.0" width="236.5" height="78.5" fill="#c0c0c0"/>
<rect x="192.0" y="1592.0" width="236.5" height="78.5" filter="url(#nz1)" opacity="0.10"/>
<rect x="201.0" y="1621.8" width="68.0" height="17.5" rx="8.8" ry="8.8" fill="#000" opacity="1.00" filter="url(#b3)"/>
<rect x="277.0" y="1621.8" width="65.0" height="17.5" rx="8.8" ry="8.8" fill="#000" opacity="1.00" filter="url(#b3)"/>
<rect x="350.5" y="1621.8" width="71.0" height="17.5" rx="8.8" ry="8.8" fill="#000" opacity="1.00" filter="url(#b3)"/>
</g>
<rect x="193.5" y="1593.5" width="233.5" height="75.5" fill="none" stroke="#000" stroke-width="3"/>
<text x="138.3" y="1523.0" font-size="31.5" textLength="32.17" lengthAdjust="spacingAndGlyphs" stroke="#000" stroke-width="0.80" >75</text>
<line x1="179.0" y1="1511.0" x2="204.0" y2="1511.0" stroke="#000" stroke-width="4.5"/>
<text x="138.6" y="1651.0" font-size="31.5" textLength="31.70" lengthAdjust="spacingAndGlyphs" stroke="#000" stroke-width="0.80" >50</text>
<line x1="179.0" y1="1637.5" x2="204.0" y2="1637.5" stroke="#000" stroke-width="4.5"/>
<text x="439.2" y="1547.5" font-size="30.8"  stroke="#000" stroke-width="0.70" >COX-2</text>
<text x="440.3" y="1637.5" font-size="32.0" textLength="150.26" lengthAdjust="spacingAndGlyphs" stroke="#000" stroke-width="0.90" >α-Tubulin</text>
<text x="130.9" y="1949.2" font-size="30.0" textLength="262.41" lengthAdjust="spacingAndGlyphs"  transform="rotate(-90 130.9 1949.2)">Relative <tspan font-weight="bold">Density</tspan></text>
<line x1="192.5" y1="1708.0" x2="192.5" y2="1933.5" stroke="#000" stroke-width="3.5"/>
<line x1="185.5" y1="1709.5" x2="192.5" y2="1709.5" stroke="#000" stroke-width="3.2"/>
<text x="151.5" y="1723.1" font-size="25.0"  >1.5</text>
<line x1="187.5" y1="1784.0" x2="192.5" y2="1784.0" stroke="#6a6a6a" stroke-width="3.0"/>
<text x="151.4" y="1798.6" font-size="25.0"  >1.0</text>
<line x1="187.5" y1="1858.5" x2="192.5" y2="1858.5" stroke="#6a6a6a" stroke-width="3.0"/>
<text x="151.5" y="1869.6" font-size="25.0"  >0.5</text>
<text x="151.4" y="1941.6" font-size="25.0"  >0.0</text>
<line x1="186.0" y1="1932.7" x2="392.0" y2="1932.7" stroke="#666" stroke-width="5.5"/>
<line x1="230.5" y1="1771.0" x2="230.5" y2="1785.6" stroke="#000" stroke-width="3.0"/>
<line x1="217.0" y1="1772.5" x2="244.0" y2="1772.5" stroke="#000" stroke-width="3.2"/>
<rect x="205.0" y="1785.6" width="51.0" height="146.4" fill="#fff" stroke="#484848" stroke-width="4.0"/>
<line x1="292.2" y1="1773.2" x2="292.2" y2="1788.6" stroke="#000" stroke-width="3.0"/>
<line x1="278.8" y1="1774.7" x2="305.8" y2="1774.7" stroke="#000" stroke-width="3.2"/>
<rect x="267.5" y="1788.6" width="49.5" height="143.4" fill="#d2d2d2" stroke="#484848" stroke-width="4.0"/>
<line x1="355.5" y1="1853.3" x2="355.5" y2="1874.6" stroke="#000" stroke-width="3.0"/>
<line x1="342.0" y1="1854.8" x2="369.0" y2="1854.8" stroke="#000" stroke-width="3.2"/>
<rect x="329.0" y="1872.6" width="53.0" height="59.4" fill="#000"/>
<text x="345.8" y="1861.2" font-size="50.0" textLength="22.38" lengthAdjust="spacingAndGlyphs" stroke="#000" stroke-width="0.40">*</text>
<text x="699.2" y="1764.9" font-size="38.5" font-weight="bold" textLength="245.04" lengthAdjust="spacingAndGlyphs" transform="rotate(-90 699.2 1764.9)">PGE<tspan font-size="23.1" dy="8">2</tspan><tspan dy="-8"> (pg/ml)</tspan></text>
<line x1="779.0" y1="1467.5" x2="779.0" y2="1815.0" stroke="#000" stroke-width="3.5"/>
<line x1="770.0" y1="1469.0" x2="779.0" y2="1469.0" stroke="#000" stroke-width="3.2"/>
<text x="709.8" y="1481.6" font-size="36.5"  >150</text>
<line x1="772.0" y1="1584.5" x2="779.0" y2="1584.5" stroke="#6a6a6a" stroke-width="3.0"/>
<text x="709.8" y="1597.1" font-size="36.5"  >100</text>
<line x1="772.0" y1="1698.5" x2="779.0" y2="1698.5" stroke="#6a6a6a" stroke-width="3.0"/>
<text x="730.0" y="1711.1" font-size="36.5"  >50</text>
<text x="750.3" y="1826.1" font-size="36.5"  >0</text>
<line x1="771.0" y1="1814.2" x2="1024.0" y2="1814.2" stroke="#000" stroke-width="4.0"/>
<line x1="813.8" y1="1737.0" x2="813.8" y2="1742.0" stroke="#000" stroke-width="3.0"/>
<line x1="799.3" y1="1738.5" x2="828.2" y2="1738.5" stroke="#000" stroke-width="3.2"/>
<rect x="789.5" y="1742.0" width="48.5" height="71.5" fill="#d2d2d2" stroke="#555" stroke-width="4.0"/>
<line x1="869.2" y1="1471.6" x2="869.2" y2="1494.9" stroke="#000" stroke-width="3.0"/>
<line x1="855.9" y1="1473.1" x2="882.6" y2="1473.1" stroke="#000" stroke-width="3.2"/>
<rect x="846.5" y="1494.4" width="45.5" height="319.1" fill="#d2d2d2" stroke="#1c1c1c" stroke-width="3.0"/>
<text x="859.5" y="1476.2" font-size="50.0" textLength="22.38" lengthAdjust="spacingAndGlyphs" stroke="#000" stroke-width="0.40">*</text>
<line x1="932.8" y1="1719.7" x2="932.8" y2="1728.2" stroke="#000" stroke-width="3.0"/>
<line x1="919.1" y1="1721.2" x2="946.4" y2="1721.2" stroke="#000" stroke-width="3.2"/>
<rect x="908.0" y="1726.2" width="49.5" height="87.3" fill="#000"/>
<line x1="986.5" y1="1682.5" x2="986.5" y2="1686.8" stroke="#000" stroke-width="3.0"/>
<line x1="973.0" y1="1684.0" x2="1000.0" y2="1684.0" stroke="#000" stroke-width="3.2"/>
<rect x="962.0" y="1684.8" width="49.0" height="128.7" fill="#000"/>
<text x="976.8" y="1687.2" font-size="50.0" textLength="22.38" lengthAdjust="spacingAndGlyphs" stroke="#000" stroke-width="0.40">*</text>
<text x="909.8" y="1416.7" font-size="32.0" textLength="24.29" lengthAdjust="spacingAndGlyphs" stroke="#000" stroke-width="1.30">+</text>
<line x1="864.0" y1="1425.5" x2="981.0" y2="1425.5" stroke="#000" stroke-width="3.0"/>
<text x="682.9" y="1868.0" font-size="37.6"  stroke="#000" stroke-width="0.60" >Gas6</text>
<text x="809.3" y="1866.7" font-size="46.0"  >-</text>
<text x="857.0" y="1872.9" font-size="46.0"  >+</text>
<text x="926.8" y="1866.7" font-size="46.0"  >-</text>
<text x="977.5" y="1872.9" font-size="46.0"  >+</text>
<line x1="791.0" y1="1881.0" x2="900.0" y2="1881.0" stroke="#000" stroke-width="3.0"/>
<line x1="908.0" y1="1881.0" x2="1016.0" y2="1881.0" stroke="#000" stroke-width="3.0"/>
<g transform="translate(768.5 1985.5) rotate(-40.0)"><text x="-2.0" y="0" font-size="34.0" textLength="123.66" lengthAdjust="spacingAndGlyphs" stroke="#000" stroke-width="1.30">Cont si</text></g>
<g transform="translate(863.0 2004.0) rotate(-40.0)"><text x="-1.9" y="0" font-size="34.0" textLength="150.31" lengthAdjust="spacingAndGlyphs" stroke="#000" stroke-width="1.30">COX-2 si</text></g>
<text x="1150.7" y="1764.9" font-size="38.5" font-weight="bold" textLength="248.06" lengthAdjust="spacingAndGlyphs" transform="rotate(-90 1150.7 1764.9)">PGD<tspan font-size="23.1" dy="8">2</tspan><tspan dy="-8"> (pg/ml)</tspan></text>
<line x1="1220.5" y1="1467.5" x2="1220.5" y2="1815.0" stroke="#000" stroke-width="3.5"/>
<line x1="1211.5" y1="1469.0" x2="1220.5" y2="1469.0" stroke="#000" stroke-width="3.2"/>
<text x="1172.8" y="1481.6" font-size="36.5"  >15</text>
<line x1="1213.5" y1="1583.5" x2="1220.5" y2="1583.5" stroke="#6a6a6a" stroke-width="3.0"/>
<text x="1172.6" y="1596.1" font-size="36.5"  >10</text>
<line x1="1213.5" y1="1698.5" x2="1220.5" y2="1698.5" stroke="#6a6a6a" stroke-width="3.0"/>
<text x="1193.1" y="1711.1" font-size="36.5"  >5</text>
<text x="1192.9" y="1826.1" font-size="36.5"  >0</text>
<line x1="1212.0" y1="1814.2" x2="1466.0" y2="1814.2" stroke="#000" stroke-width="4.0"/>
<line x1="1255.8" y1="1707.1" x2="1255.8" y2="1712.1" stroke="#000" stroke-width="3.0"/>
<line x1="1241.6" y1="1708.6" x2="1269.9" y2="1708.6" stroke="#000" stroke-width="3.2"/>
<rect x="1232.0" y="1712.1" width="47.5" height="101.4" fill="#d2d2d2" stroke="#555" stroke-width="4.0"/>
<line x1="1310.8" y1="1532.0" x2="1310.8" y2="1548.9" stroke="#000" stroke-width="3.0"/>
<line x1="1297.4" y1="1533.5" x2="1324.1" y2="1533.5" stroke="#000" stroke-width="3.2"/>
<rect x="1288.0" y="1548.4" width="45.5" height="265.1" fill="#d2d2d2" stroke="#1c1c1c" stroke-width="3.0"/>
<text x="1301.0" y="1537.2" font-size="50.0" textLength="22.38" lengthAdjust="spacingAndGlyphs" stroke="#000" stroke-width="0.40">*</text>
<line x1="1374.5" y1="1692.9" x2="1374.5" y2="1700.6" stroke="#000" stroke-width="3.0"/>
<line x1="1360.8" y1="1694.4" x2="1388.2" y2="1694.4" stroke="#000" stroke-width="3.2"/>
<rect x="1349.5" y="1698.6" width="50.0" height="114.9" fill="#000"/>
<line x1="1428.2" y1="1656.1" x2="1428.2" y2="1661.5" stroke="#000" stroke-width="3.0"/>
<line x1="1414.4" y1="1657.6" x2="1442.1" y2="1657.6" stroke="#000" stroke-width="3.2"/>
<rect x="1403.0" y="1659.5" width="50.5" height="154.0" fill="#000"/>
<text x="1418.5" y="1660.8" font-size="50.0" textLength="22.38" lengthAdjust="spacingAndGlyphs" stroke="#000" stroke-width="0.40">*</text>
<text x="1354.3" y="1470.2" font-size="32.0" textLength="24.29" lengthAdjust="spacingAndGlyphs" stroke="#000" stroke-width="1.30">+</text>
<line x1="1309.5" y1="1482.5" x2="1426.0" y2="1482.5" stroke="#000" stroke-width="3.0"/>
<text x="1124.9" y="1868.0" font-size="37.6"  stroke="#000" stroke-width="0.60" >Gas6</text>
<text x="1248.3" y="1866.7" font-size="46.0"  >-</text>
<text x="1299.0" y="1872.9" font-size="46.0"  >+</text>
<text x="1368.3" y="1866.7" font-size="46.0"  >-</text>
<text x="1422.5" y="1872.9" font-size="46.0"  >+</text>
<line x1="1229.0" y1="1881.0" x2="1339.0" y2="1881.0" stroke="#000" stroke-width="3.0"/>
<line x1="1349.5" y1="1881.0" x2="1458.0" y2="1881.0" stroke="#000" stroke-width="3.0"/>
<g transform="translate(1210.0 1985.5) rotate(-40.0)"><text x="-2.0" y="0" font-size="34.0" textLength="123.66" lengthAdjust="spacingAndGlyphs" stroke="#000" stroke-width="1.30">Cont si</text></g>
<g transform="translate(1304.5 2004.0) rotate(-40.0)"><text x="-1.9" y="0" font-size="34.0" textLength="150.31" lengthAdjust="spacingAndGlyphs" stroke="#000" stroke-width="1.30">COX-2 si</text></g>
<text x="556.0" y="2146.5" font-size="40.0"  stroke="#000" stroke-width="1.00" >LA-4 cells</text>
<text x="58.9" y="2479.3" font-size="38.8" textLength="282.20" lengthAdjust="spacingAndGlyphs" font-weight="bold" transform="rotate(-90 58.9 2479.3)">Relative mRNA</text>
<text x="102.5" y="2466.2" font-size="36.9" textLength="247.34" lengthAdjust="spacingAndGlyphs" font-weight="bold" transform="rotate(-90 102.5 2466.2)">(fold change)</text>
<line x1="158.0" y1="2160.0" x2="158.0" y2="2521.0" stroke="#808080" stroke-width="6.5"/>
<line x1="147.0" y1="2161.5" x2="158.0" y2="2161.5" stroke="#555" stroke-width="3.2"/>
<text x="123.0" y="2174.1" font-size="36.5"  >5</text>
<line x1="149.0" y1="2234.0" x2="158.0" y2="2234.0" stroke="#6a6a6a" stroke-width="3.0"/>
<text x="122.6" y="2246.6" font-size="36.5"  >4</text>
<line x1="149.0" y1="2305.5" x2="158.0" y2="2305.5" stroke="#6a6a6a" stroke-width="3.0"/>
<text x="123.0" y="2318.1" font-size="36.5"  >3</text>
<line x1="149.0" y1="2377.0" x2="158.0" y2="2377.0" stroke="#6a6a6a" stroke-width="3.0"/>
<text x="123.3" y="2389.6" font-size="36.5"  >2</text>
<line x1="149.0" y1="2448.5" x2="158.0" y2="2448.5" stroke="#6a6a6a" stroke-width="3.0"/>
<text x="123.1" y="2461.1" font-size="36.5"  >1</text>
<text x="122.8" y="2532.1" font-size="36.5"  >0</text>
<line x1="147.0" y1="2520.2" x2="1137.5" y2="2520.2" stroke="#000" stroke-width="4.0"/>
<line x1="188.0" y1="2442.3" x2="188.0" y2="2450.0" stroke="#000" stroke-width="3.0"/>
<line x1="177.5" y1="2443.8" x2="198.5" y2="2443.8" stroke="#000" stroke-width="3.2"/>
<rect x="167.5" y="2450.5" width="41.0" height="69.0" fill="#fff" stroke="#777" stroke-width="5.0"/>
<text x="177.5" y="2565.0" font-size="32.0" textLength="16.91" lengthAdjust="spacingAndGlyphs" stroke="#000" stroke-width="0.90">0</text>
<line x1="234.9" y1="2405.8" x2="234.9" y2="2416.4" stroke="#000" stroke-width="3.0"/>
<line x1="224.4" y1="2407.3" x2="245.4" y2="2407.3" stroke="#000" stroke-width="3.2"/>
<rect x="211.9" y="2414.4" width="47.2" height="105.1" fill="#808080"/>
<rect x="216.2" y="2415.6" width="38.0" height="103.9" fill="#808080" stroke="#4a4a4a" stroke-width="2.5"/>
<text x="225.2" y="2417.1" font-size="50.0" textLength="22.38" lengthAdjust="spacingAndGlyphs" stroke="#000" stroke-width="0.40">*</text>
<text x="221.6" y="2565.0" font-size="32.0" textLength="16.91" lengthAdjust="spacingAndGlyphs" stroke="#000" stroke-width="0.90">2</text>
<line x1="281.8" y1="2319.3" x2="281.8" y2="2333.5" stroke="#000" stroke-width="3.0"/>
<line x1="271.3" y1="2320.8" x2="292.3" y2="2320.8" stroke="#000" stroke-width="3.2"/>
<rect x="258.8" y="2331.5" width="47.2" height="188.0" fill="#808080"/>
<rect x="263.1" y="2332.7" width="38.0" height="186.8" fill="#808080" stroke="#4a4a4a" stroke-width="2.5"/>
<text x="272.1" y="2330.6" font-size="50.0" textLength="22.38" lengthAdjust="spacingAndGlyphs" stroke="#000" stroke-width="0.40">*</text>
<text x="267.9" y="2565.0" font-size="32.0" textLength="16.91" lengthAdjust="spacingAndGlyphs" stroke="#000" stroke-width="0.90">6</text>
<line x1="328.7" y1="2292.1" x2="328.7" y2="2299.8" stroke="#000" stroke-width="3.0"/>
<line x1="318.2" y1="2293.6" x2="339.2" y2="2293.6" stroke="#000" stroke-width="3.2"/>
<rect x="305.7" y="2297.8" width="47.2" height="221.7" fill="#808080"/>
<rect x="309.9" y="2299.1" width="38.0" height="220.4" fill="#808080" stroke="#4a4a4a" stroke-width="2.5"/>
<text x="319.0" y="2303.4" font-size="50.0" textLength="22.38" lengthAdjust="spacingAndGlyphs" stroke="#000" stroke-width="0.40">*</text>
<text x="311.2" y="2565.0" font-size="32.0" textLength="33.82" lengthAdjust="spacingAndGlyphs" stroke="#000" stroke-width="0.90">12</text>
<line x1="375.6" y1="2226.3" x2="375.6" y2="2240.5" stroke="#000" stroke-width="3.0"/>
<line x1="365.1" y1="2227.8" x2="386.1" y2="2227.8" stroke="#000" stroke-width="3.2"/>
<rect x="352.6" y="2238.5" width="45.0" height="281.0" fill="#808080"/>
<rect x="356.9" y="2239.8" width="38.0" height="279.7" fill="#808080" stroke="#4a4a4a" stroke-width="2.5"/>
<text x="365.9" y="2237.6" font-size="50.0" textLength="22.38" lengthAdjust="spacingAndGlyphs" stroke="#000" stroke-width="0.40">*</text>
<text x="358.8" y="2565.0" font-size="32.0" textLength="33.82" lengthAdjust="spacingAndGlyphs" stroke="#000" stroke-width="0.90">24</text>
<line x1="432.5" y1="2440.8" x2="432.5" y2="2450.0" stroke="#000" stroke-width="3.0"/>
<line x1="422.0" y1="2442.3" x2="443.0" y2="2442.3" stroke="#000" stroke-width="3.2"/>
<rect x="411.5" y="2449.5" width="40.0" height="70.0" fill="#fff" stroke="#222" stroke-width="3.0"/>
<text x="422.5" y="2565.0" font-size="32.0" textLength="16.91" lengthAdjust="spacingAndGlyphs" stroke="#000" stroke-width="0.90">0</text>
<line x1="479.4" y1="2435.8" x2="479.4" y2="2440.7" stroke="#000" stroke-width="3.0"/>
<line x1="468.9" y1="2437.3" x2="489.9" y2="2437.3" stroke="#000" stroke-width="3.2"/>
<rect x="456.4" y="2438.7" width="47.2" height="80.8" fill="#808080"/>
<rect x="460.6" y="2440.0" width="38.0" height="79.5" fill="#808080" stroke="#4a4a4a" stroke-width="2.5"/>
<text x="465.6" y="2565.0" font-size="32.0" textLength="16.91" lengthAdjust="spacingAndGlyphs" stroke="#000" stroke-width="0.90">2</text>
<line x1="526.3" y1="2422.3" x2="526.3" y2="2435.7" stroke="#000" stroke-width="3.0"/>
<line x1="515.8" y1="2423.8" x2="536.8" y2="2423.8" stroke="#000" stroke-width="3.2"/>
<rect x="503.3" y="2433.7" width="47.2" height="85.8" fill="#808080"/>
<rect x="507.6" y="2434.9" width="38.0" height="84.6" fill="#808080" stroke="#4a4a4a" stroke-width="2.5"/>
<text x="512.4" y="2565.0" font-size="32.0" textLength="16.91" lengthAdjust="spacingAndGlyphs" stroke="#000" stroke-width="0.90">6</text>
<line x1="573.2" y1="2433.7" x2="573.2" y2="2437.8" stroke="#000" stroke-width="3.0"/>
<line x1="562.7" y1="2435.2" x2="583.7" y2="2435.2" stroke="#000" stroke-width="3.2"/>
<rect x="550.2" y="2435.8" width="47.2" height="83.7" fill="#808080"/>
<rect x="554.5" y="2437.1" width="38.0" height="82.4" fill="#808080" stroke="#4a4a4a" stroke-width="2.5"/>
<text x="552.7" y="2565.0" font-size="32.0" textLength="33.82" lengthAdjust="spacingAndGlyphs" stroke="#000" stroke-width="0.90">12</text>
<line x1="620.1" y1="2445.1" x2="620.1" y2="2448.6" stroke="#000" stroke-width="3.0"/>
<line x1="609.6" y1="2446.6" x2="630.6" y2="2446.6" stroke="#000" stroke-width="3.2"/>
<rect x="597.1" y="2446.6" width="45.0" height="72.9" fill="#808080"/>
<rect x="601.4" y="2447.8" width="38.0" height="71.7" fill="#808080" stroke="#4a4a4a" stroke-width="2.5"/>
<text x="602.8" y="2565.0" font-size="32.0" textLength="33.82" lengthAdjust="spacingAndGlyphs" stroke="#000" stroke-width="0.90">24</text>
<line x1="673.5" y1="2444.4" x2="673.5" y2="2450.0" stroke="#000" stroke-width="3.0"/>
<line x1="663.0" y1="2445.9" x2="684.0" y2="2445.9" stroke="#000" stroke-width="3.2"/>
<rect x="652.5" y="2449.5" width="40.0" height="70.0" fill="#fff" stroke="#222" stroke-width="3.0"/>
<text x="666.5" y="2565.0" font-size="32.0" textLength="16.91" lengthAdjust="spacingAndGlyphs" stroke="#000" stroke-width="0.90">0</text>
<line x1="720.4" y1="2449.4" x2="720.4" y2="2453.6" stroke="#000" stroke-width="3.0"/>
<line x1="709.9" y1="2450.9" x2="730.9" y2="2450.9" stroke="#000" stroke-width="3.2"/>
<rect x="697.4" y="2451.6" width="47.2" height="67.9" fill="#808080"/>
<rect x="701.6" y="2452.8" width="38.0" height="66.7" fill="#808080" stroke="#4a4a4a" stroke-width="2.5"/>
<text x="710.1" y="2565.0" font-size="32.0" textLength="16.91" lengthAdjust="spacingAndGlyphs" stroke="#000" stroke-width="0.90">2</text>
<line x1="767.3" y1="2428.0" x2="767.3" y2="2437.1" stroke="#000" stroke-width="3.0"/>
<line x1="756.8" y1="2429.5" x2="777.8" y2="2429.5" stroke="#000" stroke-width="3.2"/>
<rect x="744.3" y="2435.1" width="47.2" height="84.4" fill="#808080"/>
<rect x="748.5" y="2436.4" width="38.0" height="83.1" fill="#808080" stroke="#4a4a4a" stroke-width="2.5"/>
<text x="756.4" y="2565.0" font-size="32.0" textLength="16.91" lengthAdjust="spacingAndGlyphs" stroke="#000" stroke-width="0.90">6</text>
<line x1="814.2" y1="2438.0" x2="814.2" y2="2444.3" stroke="#000" stroke-width="3.0"/>
<line x1="803.7" y1="2439.5" x2="824.7" y2="2439.5" stroke="#000" stroke-width="3.2"/>
<rect x="791.2" y="2442.3" width="47.2" height="77.2" fill="#808080"/>
<rect x="795.5" y="2443.5" width="38.0" height="76.0" fill="#808080" stroke="#4a4a4a" stroke-width="2.5"/>
<text x="796.7" y="2565.0" font-size="32.0" textLength="33.82" lengthAdjust="spacingAndGlyphs" stroke="#000" stroke-width="0.90">12</text>
<line x1="861.1" y1="2444.4" x2="861.1" y2="2450.7" stroke="#000" stroke-width="3.0"/>
<line x1="850.6" y1="2445.9" x2="871.6" y2="2445.9" stroke="#000" stroke-width="3.2"/>
<rect x="838.1" y="2448.7" width="45.0" height="70.8" fill="#808080"/>
<rect x="842.4" y="2450.0" width="38.0" height="69.5" fill="#808080" stroke="#4a4a4a" stroke-width="2.5"/>
<text x="846.3" y="2565.0" font-size="32.0" textLength="33.82" lengthAdjust="spacingAndGlyphs" stroke="#000" stroke-width="0.90">24</text>
<line x1="917.0" y1="2445.9" x2="917.0" y2="2450.0" stroke="#000" stroke-width="3.0"/>
<line x1="906.5" y1="2447.4" x2="927.5" y2="2447.4" stroke="#000" stroke-width="3.2"/>
<rect x="896.0" y="2449.5" width="40.0" height="70.0" fill="#fff" stroke="#222" stroke-width="3.0"/>
<text x="906.5" y="2565.0" font-size="32.0" textLength="16.91" lengthAdjust="spacingAndGlyphs" stroke="#000" stroke-width="0.90">0</text>
<line x1="963.9" y1="2441.6" x2="963.9" y2="2450.0" stroke="#000" stroke-width="3.0"/>
<line x1="953.4" y1="2443.1" x2="974.4" y2="2443.1" stroke="#000" stroke-width="3.2"/>
<rect x="940.9" y="2448.0" width="47.2" height="71.5" fill="#808080"/>
<rect x="945.1" y="2449.2" width="38.0" height="70.2" fill="#808080" stroke="#4a4a4a" stroke-width="2.5"/>
<text x="950.6" y="2565.0" font-size="32.0" textLength="16.91" lengthAdjust="spacingAndGlyphs" stroke="#000" stroke-width="0.90">2</text>
<line x1="1010.8" y1="2408.0" x2="1010.8" y2="2417.1" stroke="#000" stroke-width="3.0"/>
<line x1="1000.3" y1="2409.5" x2="1021.3" y2="2409.5" stroke="#000" stroke-width="3.2"/>
<rect x="987.8" y="2415.1" width="47.2" height="104.4" fill="#808080"/>
<rect x="992.0" y="2416.4" width="38.0" height="103.1" fill="#808080" stroke="#4a4a4a" stroke-width="2.5"/>
<text x="1001.1" y="2419.2" font-size="50.0" textLength="22.38" lengthAdjust="spacingAndGlyphs" stroke="#000" stroke-width="0.40">*</text>
<text x="997.4" y="2565.0" font-size="32.0" textLength="16.91" lengthAdjust="spacingAndGlyphs" stroke="#000" stroke-width="0.90">6</text>
<line x1="1057.7" y1="2332.9" x2="1057.7" y2="2343.5" stroke="#000" stroke-width="3.0"/>
<line x1="1047.2" y1="2334.4" x2="1068.2" y2="2334.4" stroke="#000" stroke-width="3.2"/>
<rect x="1034.7" y="2341.5" width="47.2" height="178.0" fill="#808080"/>
<rect x="1039.0" y="2342.7" width="38.0" height="176.8" fill="#808080" stroke="#4a4a4a" stroke-width="2.5"/>
<text x="1048.0" y="2344.1" font-size="50.0" textLength="22.38" lengthAdjust="spacingAndGlyphs" stroke="#000" stroke-width="0.40">*</text>
<text x="1037.7" y="2565.0" font-size="32.0" textLength="33.82" lengthAdjust="spacingAndGlyphs" stroke="#000" stroke-width="0.90">12</text>
<line x1="1104.6" y1="2280.7" x2="1104.6" y2="2289.8" stroke="#000" stroke-width="3.0"/>
<line x1="1094.1" y1="2282.2" x2="1115.1" y2="2282.2" stroke="#000" stroke-width="3.2"/>
<rect x="1081.6" y="2287.8" width="45.0" height="231.7" fill="#808080"/>
<rect x="1085.8" y="2289.1" width="38.0" height="230.4" fill="#808080" stroke="#4a4a4a" stroke-width="2.5"/>
<text x="1094.9" y="2291.9" font-size="50.0" textLength="22.38" lengthAdjust="spacingAndGlyphs" stroke="#000" stroke-width="0.40">*</text>
<text x="1086.8" y="2565.0" font-size="32.0" textLength="33.82" lengthAdjust="spacingAndGlyphs" stroke="#000" stroke-width="0.90">24</text>
<line x1="147.0" y1="2519.5" x2="1137.5" y2="2519.5" stroke="#000" stroke-width="4.0"/>
<text x="54.8" y="2564.5" font-size="38.0"  stroke="#000" stroke-width="0.60" >Gas6</text>
<text x="1133.7" y="2565.0" font-size="35.0"  stroke="#000" stroke-width="0.30" >(h)</text>
<line x1="166.5" y1="2593.0" x2="398.5" y2="2593.0" stroke="#000" stroke-width="3.0"/>
<line x1="410.0" y1="2593.0" x2="642.5" y2="2593.0" stroke="#000" stroke-width="3.0"/>
<line x1="651.5" y1="2593.0" x2="883.5" y2="2593.0" stroke="#000" stroke-width="3.0"/>
<line x1="895.0" y1="2593.0" x2="1127.5" y2="2593.0" stroke="#000" stroke-width="3.0"/>
<text x="217.0" y="2644.0" font-size="42.6"  font-style="italic" stroke="#000" stroke-width="0.50" >Ptger2</text>
<text x="458.5" y="2644.0" font-size="42.4"  font-style="italic" stroke="#000" stroke-width="0.50" >Ptger4</text>
<text x="729.5" y="2644.0" font-size="41.3"  font-style="italic" stroke="#000" stroke-width="0.50" >Dp1</text>
<text x="973.5" y="2644.0" font-size="40.2"  font-style="italic" stroke="#000" stroke-width="0.50" >Dp2</text>
<text x="1326.1" y="2089.5" font-size="39.9"  stroke="#000" stroke-width="1.00" >LA-4 cells</text>
<text x="1208.9" y="2170.0" font-size="37.9"  stroke="#000" stroke-width="0.60" >Gas6</text>
<text x="1339.0" y="2170.0" font-size="37.5"  stroke="#000" stroke-width="0.50">0</text>
<text x="1398.7" y="2170.0" font-size="37.5"  stroke="#000" stroke-width="0.50">12</text>
<text x="1467.9" y="2170.0" font-size="37.5"  stroke="#000" stroke-width="0.50">20</text>
<text x="1519.7" y="2170.0" font-size="42.5"  stroke="#000" stroke-width="0.30" >(h)</text>
<text x="1160.8" y="2223.0" font-size="32.1"  stroke="#000" stroke-width="0.30" >(kDa)</text>
<clipPath id="bc6"><rect x="1310.0" y="2188.0" width="216.0" height="75.0"/></clipPath>
<g clip-path="url(#bc6)">
<rect x="1310.0" y="2188.0" width="216.0" height="75.0" fill="#d2d2d2"/>
<rect x="1310.0" y="2188.0" width="216.0" height="75.0" filter="url(#nz2)" opacity="0.14"/>
<rect x="1321.0" y="2223.5" width="54.0" height="17.0" rx="8.5" ry="8.5" fill="#000" opacity="0.32" filter="url(#b6)"/>
<rect x="1393.0" y="2222.5" width="54.0" height="19.0" rx="9.5" ry="9.5" fill="#000" opacity="0.55" filter="url(#b6)"/>
<rect x="1464.0" y="2215.5" width="54.0" height="27.0" rx="13.5" ry="13.5" fill="#000" opacity="0.70" filter="url(#b6)"/>
<rect x="1395.0" y="2258.0" width="50.0" height="8.0" rx="4.0" ry="4.0" fill="#000" opacity="0.25" filter="url(#b5)"/>
<rect x="1466.0" y="2258.0" width="50.0" height="8.0" rx="4.0" ry="4.0" fill="#000" opacity="0.35" filter="url(#b5)"/>
</g>
<rect x="1311.5" y="2189.5" width="213.0" height="72.0" fill="none" stroke="#000" stroke-width="3"/>
<clipPath id="bc7"><rect x="1310.0" y="2278.0" width="216.0" height="79.0"/></clipPath>
<g clip-path="url(#bc7)">
<rect x="1310.0" y="2278.0" width="216.0" height="79.0" fill="#c8c8c8"/>
<rect x="1310.0" y="2278.0" width="216.0" height="79.0" filter="url(#nz3)" opacity="0.10"/>
<rect x="1328.0" y="2311.5" width="55.0" height="15.0" rx="7.5" ry="7.5" fill="#000" opacity="1.00" filter="url(#b3)"/>
<rect x="1393.5" y="2313.0" width="45.0" height="14.0" rx="7.0" ry="7.0" fill="#000" opacity="1.00" filter="url(#b3)"/>
<rect x="1451.5" y="2311.5" width="54.0" height="15.0" rx="7.5" ry="7.5" fill="#000" opacity="1.00" filter="url(#b3)"/>
</g>
<rect x="1311.5" y="2279.5" width="213.0" height="76.0" fill="none" stroke="#000" stroke-width="3"/>
<clipPath id="bc8"><rect x="1310.0" y="2368.0" width="216.0" height="79.5"/></clipPath>
<g clip-path="url(#bc8)">
<rect x="1310.0" y="2368.0" width="216.0" height="79.5" fill="#bebebe"/>
<rect x="1310.0" y="2368.0" width="216.0" height="79.5" filter="url(#nz0)" opacity="0.14"/>
<rect x="1323.5" y="2408.5" width="50.0" height="9.0" rx="4.5" ry="4.5" fill="#000" opacity="0.70" filter="url(#b3)"/>
<rect x="1391.0" y="2409.0" width="51.0" height="9.0" rx="4.5" ry="4.5" fill="#000" opacity="0.70" filter="url(#b3)"/>
<rect x="1458.5" y="2408.5" width="52.0" height="9.0" rx="4.5" ry="4.5" fill="#000" opacity="0.70" filter="url(#b3)"/>
<rect x="1323.0" y="2439.0" width="50.0" height="8.0" rx="4.0" ry="4.0" fill="#000" opacity="0.15" filter="url(#b5)"/>
<rect x="1391.0" y="2439.0" width="50.0" height="8.0" rx="4.0" ry="4.0" fill="#000" opacity="0.15" filter="url(#b5)"/>
<rect x="1459.0" y="2439.0" width="50.0" height="8.0" rx="4.0" ry="4.0" fill="#000" opacity="0.15" filter="url(#b5)"/>
</g>
<rect x="1311.5" y="2369.5" width="213.0" height="76.5" fill="none" stroke="#000" stroke-width="3"/>
<clipPath id="bc9"><rect x="1310.0" y="2459.0" width="216.0" height="79.0"/></clipPath>
<g clip-path="url(#bc9)">
<rect x="1310.0" y="2459.0" width="216.0" height="79.0" fill="#d6d6d6"/>
<rect x="1310.0" y="2459.0" width="216.0" height="79.0" filter="url(#nz1)" opacity="0.14"/>
<rect x="1331.0" y="2487.5" width="50.0" height="12.0" rx="6.0" ry="6.0" fill="#000" opacity="0.40" filter="url(#b5)"/>
<rect x="1400.5" y="2491.0" width="46.0" height="14.0" rx="7.0" ry="7.0" fill="#000" opacity="0.65" filter="url(#b5)"/>
<rect x="1461.5" y="2493.0" width="48.0" height="16.0" rx="8.0" ry="8.0" fill="#000" opacity="0.85" filter="url(#b5)"/>
<rect x="1405.0" y="2460.5" width="40.0" height="9.0" rx="4.5" ry="4.5" fill="#000" opacity="0.30" filter="url(#b5)"/>
<rect x="1467.0" y="2459.5" width="40.0" height="9.0" rx="4.5" ry="4.5" fill="#000" opacity="0.30" filter="url(#b5)"/>
<rect x="1338.0" y="2523.5" width="40.0" height="7.0" rx="3.5" ry="3.5" fill="#000" opacity="0.30" filter="url(#b5)"/>
</g>
<rect x="1311.5" y="2460.5" width="213.0" height="76.0" fill="none" stroke="#000" stroke-width="3"/>
<clipPath id="bc10"><rect x="1310.0" y="2550.0" width="216.0" height="78.0"/></clipPath>
<g clip-path="url(#bc10)">
<rect x="1310.0" y="2550.0" width="216.0" height="78.0" fill="#c6c6c6"/>
<rect x="1310.0" y="2550.0" width="216.0" height="78.0" filter="url(#nz2)" opacity="0.10"/>
<rect x="1319.0" y="2580.0" width="56.0" height="19.0" rx="9.5" ry="9.5" fill="#000" opacity="1.00" filter="url(#b3)"/>
<rect x="1386.0" y="2579.0" width="60.0" height="20.0" rx="10.0" ry="10.0" fill="#000" opacity="1.00" filter="url(#b3)"/>
<rect x="1456.0" y="2579.0" width="58.0" height="20.0" rx="10.0" ry="10.0" fill="#000" opacity="1.00" filter="url(#b3)"/>
</g>
<rect x="1311.5" y="2551.5" width="213.0" height="75.0" fill="none" stroke="#000" stroke-width="3"/>
<text x="1252.6" y="2224.0" font-size="31.5" textLength="31.70" lengthAdjust="spacingAndGlyphs" stroke="#000" stroke-width="0.80" >50</text>
<line x1="1292.5" y1="2210.0" x2="1318.5" y2="2210.0" stroke="#000" stroke-width="4.5"/>
<text x="1252.3" y="2325.5" font-size="31.5" textLength="32.17" lengthAdjust="spacingAndGlyphs" stroke="#000" stroke-width="0.80" >75</text>
<line x1="1292.5" y1="2310.5" x2="1318.5" y2="2310.5" stroke="#000" stroke-width="4.5"/>
<text x="1252.6" y="2413.0" font-size="31.5" textLength="31.70" lengthAdjust="spacingAndGlyphs" stroke="#000" stroke-width="0.80" >50</text>
<line x1="1292.5" y1="2401.0" x2="1318.5" y2="2401.0" stroke="#000" stroke-width="4.5"/>
<text x="1252.6" y="2489.5" font-size="31.5" textLength="31.70" lengthAdjust="spacingAndGlyphs" stroke="#000" stroke-width="0.80" >50</text>
<line x1="1292.5" y1="2478.0" x2="1318.5" y2="2478.0" stroke="#000" stroke-width="4.5"/>
<text x="1252.6" y="2611.0" font-size="31.5" textLength="31.70" lengthAdjust="spacingAndGlyphs" stroke="#000" stroke-width="0.80" >50</text>
<line x1="1292.5" y1="2598.0" x2="1318.5" y2="2598.0" stroke="#000" stroke-width="4.5"/>
<text x="1532.9" y="2237.0" font-size="35.8"  stroke="#000" stroke-width="0.50" >EP2</text>
<text x="1532.9" y="2327.0" font-size="35.4"  stroke="#000" stroke-width="0.50" >EP4</text>
<text x="1533.0" y="2417.5" font-size="34.6"  stroke="#000" stroke-width="0.50" >DP1</text>
<text x="1533.0" y="2507.5" font-size="34.7"  stroke="#000" stroke-width="0.50" >DP2</text>
<text x="1534.3" y="2595.0" font-size="32.0" textLength="150.26" lengthAdjust="spacingAndGlyphs" stroke="#000" stroke-width="0.90" >α-Tubulin</text>
<text x="1695.0" y="2507.4" font-size="37.0" textLength="309.33" lengthAdjust="spacingAndGlyphs" font-weight="bold" transform="rotate(-90 1695.0 2507.4)">Relative Density</text>
<line x1="1765.0" y1="2161.0" x2="1765.0" y2="2520.5" stroke="#000" stroke-width="3.5"/>
<line x1="1752.0" y1="2162.5" x2="1765.0" y2="2162.5" stroke="#000" stroke-width="3.2"/>
<text x="1730.5" y="2175.1" font-size="36.5"  >3</text>
<line x1="1754.0" y1="2282.5" x2="1765.0" y2="2282.5" stroke="#6a6a6a" stroke-width="3.0"/>
<text x="1730.8" y="2295.1" font-size="36.5"  >2</text>
<line x1="1754.0" y1="2401.5" x2="1765.0" y2="2401.5" stroke="#6a6a6a" stroke-width="3.0"/>
<text x="1730.6" y="2414.1" font-size="36.5"  >1</text>
<text x="1730.3" y="2531.6" font-size="36.5"  >0</text>
<line x1="1753.5" y1="2519.7" x2="2365.0" y2="2519.7" stroke="#000" stroke-width="4.0"/>
<line x1="1796.5" y1="2392.9" x2="1796.5" y2="2402.0" stroke="#000" stroke-width="3.0"/>
<line x1="1785.5" y1="2394.4" x2="1807.5" y2="2394.4" stroke="#000" stroke-width="3.2"/>
<rect x="1776.5" y="2401.5" width="40.0" height="117.5" fill="#fff" stroke="#222" stroke-width="3.0"/>
<text x="1787.5" y="2565.0" font-size="32.0" textLength="16.91" lengthAdjust="spacingAndGlyphs" stroke="#000" stroke-width="0.90">0</text>
<line x1="1843.0" y1="2313.1" x2="1843.0" y2="2323.5" stroke="#000" stroke-width="3.0"/>
<line x1="1832.0" y1="2314.6" x2="1854.0" y2="2314.6" stroke="#000" stroke-width="3.2"/>
<rect x="1823.0" y="2323.0" width="40.0" height="196.0" fill="#a0a0a4" stroke="#3a3a3a" stroke-width="3.0"/>
<text x="1833.3" y="2323.9" font-size="50.0" textLength="22.38" lengthAdjust="spacingAndGlyphs" stroke="#000" stroke-width="0.40">*</text>
<text x="1823.7" y="2565.0" font-size="32.0" textLength="33.82" lengthAdjust="spacingAndGlyphs" stroke="#000" stroke-width="0.90">12</text>
<line x1="1889.5" y1="2215.6" x2="1889.5" y2="2224.7" stroke="#000" stroke-width="3.0"/>
<line x1="1878.5" y1="2217.1" x2="1900.5" y2="2217.1" stroke="#000" stroke-width="3.2"/>
<rect x="1868.0" y="2222.7" width="43.0" height="296.3" fill="#000"/>
<text x="1879.8" y="2226.3" font-size="50.0" textLength="22.38" lengthAdjust="spacingAndGlyphs" stroke="#000" stroke-width="0.40">*</text>
<text x="1872.9" y="2565.0" font-size="32.0" textLength="33.82" lengthAdjust="spacingAndGlyphs" stroke="#000" stroke-width="0.90">20</text>
<line x1="1944.0" y1="2392.9" x2="1944.0" y2="2402.0" stroke="#000" stroke-width="3.0"/>
<line x1="1933.0" y1="2394.4" x2="1955.0" y2="2394.4" stroke="#000" stroke-width="3.2"/>
<rect x="1924.0" y="2401.5" width="40.0" height="117.5" fill="#fff" stroke="#222" stroke-width="3.0"/>
<text x="1935.0" y="2565.0" font-size="32.0" textLength="16.91" lengthAdjust="spacingAndGlyphs" stroke="#000" stroke-width="0.90">0</text>
<line x1="1990.5" y1="2392.9" x2="1990.5" y2="2402.0" stroke="#000" stroke-width="3.0"/>
<line x1="1979.5" y1="2394.4" x2="2001.5" y2="2394.4" stroke="#000" stroke-width="3.2"/>
<rect x="1970.5" y="2401.5" width="40.0" height="117.5" fill="#a0a0a4" stroke="#3a3a3a" stroke-width="3.0"/>
<text x="1971.2" y="2565.0" font-size="32.0" textLength="33.82" lengthAdjust="spacingAndGlyphs" stroke="#000" stroke-width="0.90">12</text>
<line x1="2037.0" y1="2389.3" x2="2037.0" y2="2399.6" stroke="#000" stroke-width="3.0"/>
<line x1="2026.0" y1="2390.8" x2="2048.0" y2="2390.8" stroke="#000" stroke-width="3.2"/>
<rect x="2015.5" y="2397.6" width="43.0" height="121.4" fill="#000"/>
<text x="2020.4" y="2565.0" font-size="32.0" textLength="33.82" lengthAdjust="spacingAndGlyphs" stroke="#000" stroke-width="0.90">20</text>
<line x1="2091.0" y1="2394.1" x2="2091.0" y2="2402.0" stroke="#000" stroke-width="3.0"/>
<line x1="2080.0" y1="2395.6" x2="2102.0" y2="2395.6" stroke="#000" stroke-width="3.2"/>
<rect x="2071.0" y="2401.5" width="40.0" height="117.5" fill="#fff" stroke="#222" stroke-width="3.0"/>
<text x="2082.5" y="2565.0" font-size="32.0" textLength="16.91" lengthAdjust="spacingAndGlyphs" stroke="#000" stroke-width="0.90">0</text>
<line x1="2137.5" y1="2384.5" x2="2137.5" y2="2398.4" stroke="#000" stroke-width="3.0"/>
<line x1="2126.5" y1="2386.0" x2="2148.5" y2="2386.0" stroke="#000" stroke-width="3.2"/>
<rect x="2117.5" y="2397.9" width="40.0" height="121.1" fill="#a0a0a4" stroke="#3a3a3a" stroke-width="3.0"/>
<text x="2118.7" y="2565.0" font-size="32.0" textLength="33.82" lengthAdjust="spacingAndGlyphs" stroke="#000" stroke-width="0.90">12</text>
<line x1="2184.0" y1="2388.1" x2="2184.0" y2="2396.1" stroke="#000" stroke-width="3.0"/>
<line x1="2173.0" y1="2389.6" x2="2195.0" y2="2389.6" stroke="#000" stroke-width="3.2"/>
<rect x="2162.5" y="2394.1" width="43.0" height="124.9" fill="#000"/>
<text x="2166.4" y="2565.0" font-size="32.0" textLength="33.82" lengthAdjust="spacingAndGlyphs" stroke="#000" stroke-width="0.90">20</text>
<line x1="2238.5" y1="2394.1" x2="2238.5" y2="2402.0" stroke="#000" stroke-width="3.0"/>
<line x1="2227.5" y1="2395.6" x2="2249.5" y2="2395.6" stroke="#000" stroke-width="3.2"/>
<rect x="2218.5" y="2401.5" width="40.0" height="117.5" fill="#fff" stroke="#222" stroke-width="3.0"/>
<text x="2228.5" y="2565.0" font-size="32.0" textLength="16.91" lengthAdjust="spacingAndGlyphs" stroke="#000" stroke-width="0.90">0</text>
<line x1="2285.0" y1="2314.3" x2="2285.0" y2="2324.7" stroke="#000" stroke-width="3.0"/>
<line x1="2274.0" y1="2315.8" x2="2296.0" y2="2315.8" stroke="#000" stroke-width="3.2"/>
<rect x="2265.0" y="2324.2" width="40.0" height="194.8" fill="#a0a0a4" stroke="#3a3a3a" stroke-width="3.0"/>
<text x="2275.3" y="2325.1" font-size="50.0" textLength="22.38" lengthAdjust="spacingAndGlyphs" stroke="#000" stroke-width="0.40">*</text>
<text x="2266.2" y="2565.0" font-size="32.0" textLength="33.82" lengthAdjust="spacingAndGlyphs" stroke="#000" stroke-width="0.90">12</text>
<line x1="2331.5" y1="2191.8" x2="2331.5" y2="2209.2" stroke="#000" stroke-width="3.0"/>
<line x1="2320.5" y1="2193.2" x2="2342.5" y2="2193.2" stroke="#000" stroke-width="3.2"/>
<rect x="2310.0" y="2207.2" width="43.0" height="311.8" fill="#000"/>
<text x="2321.8" y="2202.5" font-size="50.0" textLength="22.38" lengthAdjust="spacingAndGlyphs" stroke="#000" stroke-width="0.40">*</text>
<text x="2312.4" y="2565.0" font-size="32.0" textLength="33.82" lengthAdjust="spacingAndGlyphs" stroke="#000" stroke-width="0.90">20</text>
<text x="1675.8" y="2565.0" font-size="38.0"  stroke="#000" stroke-width="0.60" >Gas6</text>
<text x="2369.8" y="2565.0" font-size="32.7"  stroke="#000" stroke-width="0.30" >(h)</text>
<line x1="1776.0" y1="2590.0" x2="1914.5" y2="2590.0" stroke="#000" stroke-width="3.0"/>
<line x1="1924.5" y1="2590.0" x2="2063.5" y2="2590.0" stroke="#000" stroke-width="3.0"/>
<line x1="2072.0" y1="2590.0" x2="2211.0" y2="2590.0" stroke="#000" stroke-width="3.0"/>
<line x1="2219.5" y1="2590.0" x2="2358.5" y2="2590.0" stroke="#000" stroke-width="3.0"/>
<text x="1813.6" y="2637.5" font-size="39.5"  stroke="#000" stroke-width="0.70" >EP2</text>
<text x="1961.2" y="2637.5" font-size="38.5"  stroke="#000" stroke-width="0.70" >EP4</text>
<text x="2103.6" y="2637.5" font-size="39.0"  stroke="#000" stroke-width="0.70" >DP1</text>
<text x="2251.1" y="2637.5" font-size="39.9"  stroke="#000" stroke-width="0.70" >DP2</text>
<text x="556.1" y="2870.0" font-size="39.8"  stroke="#000" stroke-width="1.00" >LA-4 cells</text>
<text x="171.4" y="3206.8" font-size="38.8" textLength="279.67" lengthAdjust="spacingAndGlyphs" font-weight="bold" transform="rotate(-90 171.4 3206.8)">Relative mRNA</text>
<text x="215.3" y="3191.2" font-size="38.0" textLength="249.88" lengthAdjust="spacingAndGlyphs" font-weight="bold" transform="rotate(-90 215.3 3191.2)">(fold change)</text>
<line x1="275.0" y1="2889.5" x2="275.0" y2="3237.5" stroke="#444" stroke-width="3.5"/>
<line x1="265.0" y1="2891.0" x2="275.0" y2="2891.0" stroke="#000" stroke-width="3.2"/>
<text x="243.0" y="2903.6" font-size="36.5"  >3</text>
<line x1="267.0" y1="3006.5" x2="275.0" y2="3006.5" stroke="#6a6a6a" stroke-width="3.0"/>
<text x="243.3" y="3019.1" font-size="36.5"  >2</text>
<line x1="267.0" y1="3122.5" x2="275.0" y2="3122.5" stroke="#6a6a6a" stroke-width="3.0"/>
<text x="243.1" y="3135.1" font-size="36.5"  >1</text>
<text x="242.8" y="3248.6" font-size="36.5"  >0</text>
<line x1="265.0" y1="3236.7" x2="1074.0" y2="3236.7" stroke="#000" stroke-width="4.0"/>
<line x1="304.0" y1="3175.1" x2="304.0" y2="3180.5" stroke="#000" stroke-width="3.0"/>
<line x1="293.0" y1="3176.6" x2="315.0" y2="3176.6" stroke="#000" stroke-width="3.2"/>
<rect x="285.5" y="3180.5" width="37.0" height="55.5" fill="#d2d2d2" stroke="#555" stroke-width="4.0"/>
<text x="294.8" y="3289.7" font-size="46.0"  >-</text>
<text x="289.0" y="3339.9" font-size="46.0"  >+</text>
<text x="294.8" y="3386.2" font-size="46.0"  >-</text>
<line x1="349.5" y1="2941.6" x2="349.5" y2="2952.8" stroke="#000" stroke-width="3.0"/>
<line x1="338.5" y1="2943.1" x2="360.5" y2="2943.1" stroke="#000" stroke-width="3.2"/>
<rect x="330.5" y="2952.3" width="38.0" height="283.7" fill="#d2d2d2" stroke="#1c1c1c" stroke-width="3.0"/>
<text x="339.8" y="2952.3" font-size="50.0" textLength="22.38" lengthAdjust="spacingAndGlyphs" stroke="#000" stroke-width="0.40">*</text>
<text x="337.5" y="3292.9" font-size="46.0"  >+</text>
<text x="337.5" y="3339.9" font-size="46.0"  >+</text>
<text x="343.3" y="3386.2" font-size="46.0"  >-</text>
<line x1="397.0" y1="3169.3" x2="397.0" y2="3174.8" stroke="#000" stroke-width="3.0"/>
<line x1="386.0" y1="3170.8" x2="408.0" y2="3170.8" stroke="#000" stroke-width="3.2"/>
<rect x="376.5" y="3172.8" width="41.0" height="63.2" fill="#000"/>
<text x="387.3" y="3289.7" font-size="46.0"  >-</text>
<text x="387.3" y="3336.7" font-size="46.0"  >-</text>
<text x="381.5" y="3389.4" font-size="46.0"  >+</text>
<line x1="443.5" y1="3114.1" x2="443.5" y2="3123.0" stroke="#000" stroke-width="3.0"/>
<line x1="432.5" y1="3115.6" x2="454.5" y2="3115.6" stroke="#000" stroke-width="3.2"/>
<rect x="423.0" y="3121.0" width="41.0" height="115.0" fill="#000"/>
<text x="433.8" y="3124.8" font-size="50.0" textLength="22.38" lengthAdjust="spacingAndGlyphs" stroke="#000" stroke-width="0.40">*</text>
<text x="429.0" y="3292.9" font-size="46.0"  >+</text>
<text x="434.8" y="3336.7" font-size="46.0"  >-</text>
<text x="429.0" y="3389.4" font-size="46.0"  >+</text>
<line x1="500.5" y1="3171.6" x2="500.5" y2="3180.5" stroke="#000" stroke-width="3.0"/>
<line x1="489.5" y1="3173.1" x2="511.5" y2="3173.1" stroke="#000" stroke-width="3.2"/>
<rect x="482.0" y="3180.5" width="37.0" height="55.5" fill="#d2d2d2" stroke="#555" stroke-width="4.0"/>
<text x="492.3" y="3289.7" font-size="46.0"  >-</text>
<text x="486.5" y="3339.9" font-size="46.0"  >+</text>
<text x="492.3" y="3386.2" font-size="46.0"  >-</text>
<line x1="546.0" y1="3164.7" x2="546.0" y2="3169.0" stroke="#000" stroke-width="3.0"/>
<line x1="535.0" y1="3166.2" x2="557.0" y2="3166.2" stroke="#000" stroke-width="3.2"/>
<rect x="527.0" y="3168.5" width="38.0" height="67.5" fill="#d2d2d2" stroke="#1c1c1c" stroke-width="3.0"/>
<text x="535.0" y="3292.9" font-size="46.0"  >+</text>
<text x="535.0" y="3339.9" font-size="46.0"  >+</text>
<text x="540.8" y="3386.2" font-size="46.0"  >-</text>
<line x1="593.5" y1="3175.1" x2="593.5" y2="3180.5" stroke="#000" stroke-width="3.0"/>
<line x1="582.5" y1="3176.6" x2="604.5" y2="3176.6" stroke="#000" stroke-width="3.2"/>
<rect x="573.0" y="3178.5" width="41.0" height="57.5" fill="#000"/>
<text x="584.8" y="3289.7" font-size="46.0"  >-</text>
<text x="584.8" y="3336.7" font-size="46.0"  >-</text>
<text x="579.0" y="3389.4" font-size="46.0"  >+</text>
<line x1="640.0" y1="3164.7" x2="640.0" y2="3172.4" stroke="#000" stroke-width="3.0"/>
<line x1="629.0" y1="3166.2" x2="651.0" y2="3166.2" stroke="#000" stroke-width="3.2"/>
<rect x="619.5" y="3170.4" width="41.0" height="65.6" fill="#000"/>
<text x="626.5" y="3292.9" font-size="46.0"  >+</text>
<text x="632.3" y="3336.7" font-size="46.0"  >-</text>
<text x="626.5" y="3389.4" font-size="46.0"  >+</text>
<line x1="698.0" y1="3172.8" x2="698.0" y2="3180.5" stroke="#000" stroke-width="3.0"/>
<line x1="687.0" y1="3174.2" x2="709.0" y2="3174.2" stroke="#000" stroke-width="3.2"/>
<rect x="679.5" y="3180.5" width="37.0" height="55.5" fill="#d2d2d2" stroke="#555" stroke-width="4.0"/>
<text x="692.3" y="3289.7" font-size="46.0"  >-</text>
<text x="686.5" y="3339.9" font-size="46.0"  >+</text>
<text x="692.3" y="3386.2" font-size="46.0"  >-</text>
<line x1="743.5" y1="3157.8" x2="743.5" y2="3167.8" stroke="#000" stroke-width="3.0"/>
<line x1="732.5" y1="3159.3" x2="754.5" y2="3159.3" stroke="#000" stroke-width="3.2"/>
<rect x="724.5" y="3167.3" width="38.0" height="68.7" fill="#d2d2d2" stroke="#1c1c1c" stroke-width="3.0"/>
<text x="732.5" y="3292.9" font-size="46.0"  >+</text>
<text x="732.5" y="3339.9" font-size="46.0"  >+</text>
<text x="738.3" y="3386.2" font-size="46.0"  >-</text>
<line x1="791.0" y1="3173.9" x2="791.0" y2="3180.5" stroke="#000" stroke-width="3.0"/>
<line x1="780.0" y1="3175.4" x2="802.0" y2="3175.4" stroke="#000" stroke-width="3.2"/>
<rect x="770.5" y="3178.5" width="41.0" height="57.5" fill="#000"/>
<text x="782.3" y="3289.7" font-size="46.0"  >-</text>
<text x="782.3" y="3336.7" font-size="46.0"  >-</text>
<text x="776.5" y="3389.4" font-size="46.0"  >+</text>
<line x1="837.5" y1="3172.8" x2="837.5" y2="3180.5" stroke="#000" stroke-width="3.0"/>
<line x1="826.5" y1="3174.2" x2="848.5" y2="3174.2" stroke="#000" stroke-width="3.2"/>
<rect x="817.0" y="3178.5" width="41.0" height="57.5" fill="#000"/>
<text x="824.0" y="3292.9" font-size="46.0"  >+</text>
<text x="829.8" y="3336.7" font-size="46.0"  >-</text>
<text x="824.0" y="3389.4" font-size="46.0"  >+</text>
<line x1="895.5" y1="3175.1" x2="895.5" y2="3180.5" stroke="#000" stroke-width="3.0"/>
<line x1="884.5" y1="3176.6" x2="906.5" y2="3176.6" stroke="#000" stroke-width="3.2"/>
<rect x="877.0" y="3180.5" width="37.0" height="55.5" fill="#d2d2d2" stroke="#555" stroke-width="4.0"/>
<text x="889.8" y="3289.7" font-size="46.0"  >-</text>
<text x="884.0" y="3339.9" font-size="46.0"  >+</text>
<text x="889.8" y="3386.2" font-size="46.0"  >-</text>
<line x1="941.0" y1="3038.2" x2="941.0" y2="3042.5" stroke="#000" stroke-width="3.0"/>
<line x1="930.0" y1="3039.7" x2="952.0" y2="3039.7" stroke="#000" stroke-width="3.2"/>
<rect x="922.0" y="3042.0" width="38.0" height="194.0" fill="#d2d2d2" stroke="#1c1c1c" stroke-width="3.0"/>
<text x="931.3" y="3048.9" font-size="50.0" textLength="22.38" lengthAdjust="spacingAndGlyphs" stroke="#000" stroke-width="0.40">*</text>
<text x="930.5" y="3292.9" font-size="46.0"  >+</text>
<text x="930.5" y="3339.9" font-size="46.0"  >+</text>
<text x="936.3" y="3386.2" font-size="46.0"  >-</text>
<line x1="988.5" y1="3164.7" x2="988.5" y2="3172.4" stroke="#000" stroke-width="3.0"/>
<line x1="977.5" y1="3166.2" x2="999.5" y2="3166.2" stroke="#000" stroke-width="3.2"/>
<rect x="968.0" y="3170.4" width="41.0" height="65.6" fill="#000"/>
<text x="979.8" y="3289.7" font-size="46.0"  >-</text>
<text x="979.8" y="3336.7" font-size="46.0"  >-</text>
<text x="974.0" y="3389.4" font-size="46.0"  >+</text>
<line x1="1035.0" y1="3135.9" x2="1035.0" y2="3149.4" stroke="#000" stroke-width="3.0"/>
<line x1="1024.0" y1="3137.4" x2="1046.0" y2="3137.4" stroke="#000" stroke-width="3.2"/>
<rect x="1014.5" y="3147.4" width="41.0" height="88.6" fill="#000"/>
<text x="1025.3" y="3146.7" font-size="50.0" textLength="22.38" lengthAdjust="spacingAndGlyphs" stroke="#000" stroke-width="0.40">*</text>
<text x="1020.5" y="3292.9" font-size="46.0"  >+</text>
<text x="1026.3" y="3336.7" font-size="46.0"  >-</text>
<text x="1020.5" y="3389.4" font-size="46.0"  >+</text>
<text x="173.9" y="3284.0" font-size="37.4"  stroke="#000" stroke-width="0.60" >Gas6</text>
<text x="37.9" y="3332.5" font-size="36.3"  stroke="#000" stroke-width="0.60" >COX-2 siRNA</text>
<text x="64.9" y="3381.5" font-size="37.7"  stroke="#000" stroke-width="0.60" >Cont siRNA</text>
<line x1="282.5" y1="3406.0" x2="465.0" y2="3406.0" stroke="#000" stroke-width="3.0"/>
<line x1="480.0" y1="3406.0" x2="662.5" y2="3406.0" stroke="#000" stroke-width="3.0"/>
<line x1="677.5" y1="3406.0" x2="860.0" y2="3406.0" stroke="#000" stroke-width="3.0"/>
<line x1="874.0" y1="3406.0" x2="1057.5" y2="3406.0" stroke="#000" stroke-width="3.0"/>
<text x="310.5" y="3454.0" font-size="42.6"  font-style="italic" stroke="#000" stroke-width="0.50" >Ptger2</text>
<text x="507.0" y="3454.0" font-size="42.9"  font-style="italic" stroke="#000" stroke-width="0.50" >Ptger4</text>
<text x="728.5" y="3454.0" font-size="41.9"  font-style="italic" stroke="#000" stroke-width="0.50" >Dp1</text>
<text x="925.5" y="3454.0" font-size="40.5"  font-style="italic" stroke="#000" stroke-width="0.50" >Dp2</text>
<text y="2862.5" font-size="38.5" stroke="#000" stroke-width="1.00"><tspan x="1506.5" textLength="200.25" lengthAdjust="spacingAndGlyphs">Primary AT</tspan><tspan> </tspan><tspan class="rn" x="1715.5" font-size="35.5" stroke-width="0.5" textLength="31" lengthAdjust="spacingAndGlyphs">Ⅱ</tspan></text>
<text x="1256.4" y="3209.3" font-size="39.5" textLength="279.67" lengthAdjust="spacingAndGlyphs" font-weight="bold" transform="rotate(-90 1256.4 3209.3)">Relative mRNA</text>
<text x="1299.3" y="3191.2" font-size="38.0" textLength="249.88" lengthAdjust="spacingAndGlyphs" font-weight="bold" transform="rotate(-90 1299.3 3191.2)">(fold change)</text>
<line x1="1375.0" y1="2889.5" x2="1375.0" y2="3240.5" stroke="#444" stroke-width="4.0"/>
<line x1="1365.0" y1="2891.0" x2="1375.0" y2="2891.0" stroke="#000" stroke-width="3.2"/>
<text x="1335.1" y="2903.6" font-size="36.5"  >4</text>
<line x1="1367.0" y1="2978.5" x2="1375.0" y2="2978.5" stroke="#6a6a6a" stroke-width="3.0"/>
<text x="1335.5" y="2991.1" font-size="36.5"  >3</text>
<line x1="1367.0" y1="3065.5" x2="1375.0" y2="3065.5" stroke="#6a6a6a" stroke-width="3.0"/>
<text x="1335.8" y="3078.1" font-size="36.5"  >2</text>
<line x1="1367.0" y1="3152.5" x2="1375.0" y2="3152.5" stroke="#6a6a6a" stroke-width="3.0"/>
<text x="1335.6" y="3165.1" font-size="36.5"  >1</text>
<text x="1335.3" y="3251.6" font-size="36.5"  >0</text>
<line x1="1365.0" y1="3239.7" x2="1919.0" y2="3239.7" stroke="#000" stroke-width="4.0"/>
<line x1="1413.0" y1="3139.8" x2="1413.0" y2="3154.0" stroke="#000" stroke-width="3.0"/>
<line x1="1398.0" y1="3141.3" x2="1428.0" y2="3141.3" stroke="#000" stroke-width="3.2"/>
<rect x="1389.0" y="3153.5" width="48.0" height="85.5" fill="#fff" stroke="#222" stroke-width="3.0"/>
<line x1="1472.0" y1="2981.5" x2="1472.0" y2="2996.5" stroke="#000" stroke-width="3.0"/>
<line x1="1457.0" y1="2983.0" x2="1487.0" y2="2983.0" stroke="#000" stroke-width="3.2"/>
<rect x="1446.5" y="2996.0" width="51.0" height="243.0" fill="#a0a0a4" stroke="#3a3a3a" stroke-width="3.0"/>
<text x="1462.3" y="2992.2" font-size="50.0" textLength="22.38" lengthAdjust="spacingAndGlyphs" stroke="#000" stroke-width="0.40">*</text>
<text x="1401.3" y="3291.2" font-size="46.0"  >-</text>
<text x="1456.5" y="3294.4" font-size="46.0"  >+</text>
<line x1="1548.0" y1="3145.0" x2="1548.0" y2="3154.0" stroke="#000" stroke-width="3.0"/>
<line x1="1533.0" y1="3146.5" x2="1563.0" y2="3146.5" stroke="#000" stroke-width="3.2"/>
<rect x="1522.5" y="3153.5" width="51.0" height="85.5" fill="#fff" stroke="#222" stroke-width="3.0"/>
<line x1="1606.2" y1="3152.0" x2="1606.2" y2="3157.5" stroke="#000" stroke-width="3.0"/>
<line x1="1591.2" y1="3153.5" x2="1621.2" y2="3153.5" stroke="#000" stroke-width="3.2"/>
<rect x="1581.5" y="3157.0" width="49.5" height="82.0" fill="#a0a0a4" stroke="#3a3a3a" stroke-width="3.0"/>
<text x="1538.8" y="3291.2" font-size="46.0"  >-</text>
<text x="1593.0" y="3294.4" font-size="46.0"  >+</text>
<line x1="1682.8" y1="3149.4" x2="1682.8" y2="3154.0" stroke="#000" stroke-width="3.0"/>
<line x1="1667.8" y1="3150.9" x2="1697.8" y2="3150.9" stroke="#000" stroke-width="3.2"/>
<rect x="1658.0" y="3153.5" width="49.5" height="85.5" fill="#fff" stroke="#222" stroke-width="3.0"/>
<line x1="1742.0" y1="3152.0" x2="1742.0" y2="3157.5" stroke="#000" stroke-width="3.0"/>
<line x1="1727.0" y1="3153.5" x2="1757.0" y2="3153.5" stroke="#000" stroke-width="3.2"/>
<rect x="1716.5" y="3157.0" width="51.0" height="82.0" fill="#a0a0a4" stroke="#3a3a3a" stroke-width="3.0"/>
<text x="1673.3" y="3291.2" font-size="46.0"  >-</text>
<text x="1730.0" y="3294.4" font-size="46.0"  >+</text>
<line x1="1817.5" y1="3140.7" x2="1817.5" y2="3154.0" stroke="#000" stroke-width="3.0"/>
<line x1="1802.5" y1="3142.2" x2="1832.5" y2="3142.2" stroke="#000" stroke-width="3.2"/>
<rect x="1793.0" y="3153.5" width="49.0" height="85.5" fill="#fff" stroke="#222" stroke-width="3.0"/>
<line x1="1877.8" y1="2924.9" x2="1877.8" y2="2932.2" stroke="#000" stroke-width="3.0"/>
<line x1="1862.8" y1="2926.4" x2="1892.8" y2="2926.4" stroke="#000" stroke-width="3.2"/>
<rect x="1853.0" y="2931.7" width="49.5" height="307.3" fill="#a0a0a4" stroke="#3a3a3a" stroke-width="3.0"/>
<text x="1868.0" y="2935.7" font-size="50.0" textLength="22.38" lengthAdjust="spacingAndGlyphs" stroke="#000" stroke-width="0.40">*</text>
<text x="1807.3" y="3291.2" font-size="46.0"  >-</text>
<text x="1864.0" y="3294.4" font-size="46.0"  >+</text>
<text x="1278.9" y="3284.0" font-size="37.2"  stroke="#000" stroke-width="0.60" >Gas6</text>
<text x="1278.4" y="3330.0" font-size="38.9"  stroke="#000" stroke-width="0.60" >(20h)</text>
<line x1="1382.5" y1="3309.0" x2="1500.0" y2="3309.0" stroke="#000" stroke-width="3.0"/>
<line x1="1520.0" y1="3309.0" x2="1638.5" y2="3309.0" stroke="#000" stroke-width="3.0"/>
<line x1="1654.0" y1="3309.0" x2="1772.5" y2="3309.0" stroke="#000" stroke-width="3.0"/>
<line x1="1793.5" y1="3309.0" x2="1912.5" y2="3309.0" stroke="#000" stroke-width="3.0"/>
<text x="1379.5" y="3351.0" font-size="40.0"  font-style="italic" stroke="#000" stroke-width="0.40" >Ptger2</text>
<text x="1515.5" y="3351.0" font-size="40.3"  font-style="italic" stroke="#000" stroke-width="0.40" >Ptger4</text>
<text x="1678.6" y="3351.0" font-size="39.0"  font-style="italic" stroke="#000" stroke-width="0.40" >Dp1</text>
<text x="1819.6" y="3351.0" font-size="37.7"  font-style="italic" stroke="#000" stroke-width="0.40" >Dp2</text>
</g>
</svg>
</body></html>
